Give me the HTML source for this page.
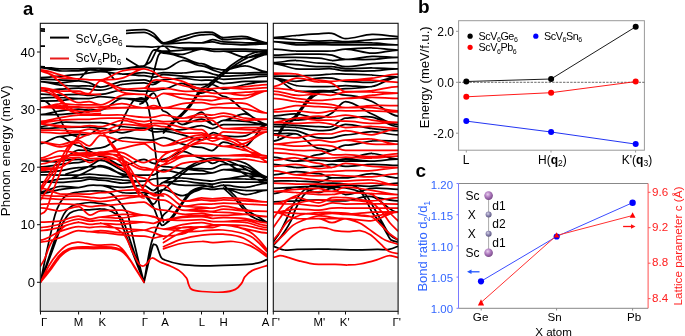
<!DOCTYPE html>
<html><head><meta charset="utf-8"><style>
html,body{margin:0;padding:0;background:#fff;width:685px;height:336px;overflow:hidden}
svg{display:block;will-change:transform}
text{font-family:"Liberation Sans",sans-serif}
</style></head><body>
<svg width="685" height="336" viewBox="0 0 685 336">
<defs>
<clipPath id="c1"><rect x="40.3" y="23.3" width="227.2" height="288"/></clipPath>
<clipPath id="c2"><rect x="273.3" y="23.3" width="124.8" height="288"/></clipPath>
<radialGradient id="sc" cx="0.4" cy="0.35" r="0.65"><stop offset="0" stop-color="#e8d0ee"/><stop offset="0.5" stop-color="#b07cc0"/><stop offset="1" stop-color="#7a4a8a"/></radialGradient>
<radialGradient id="xa" cx="0.4" cy="0.35" r="0.65"><stop offset="0" stop-color="#d6d4e8"/><stop offset="0.5" stop-color="#8c86b0"/><stop offset="1" stop-color="#5c5680"/></radialGradient>
</defs>

<!-- ===== Panel a ===== -->
<text x="23" y="15" font-size="18.5" font-weight="bold">a</text>
<rect x="40.3" y="282.3" width="227.2" height="29" fill="#e4e4e4"/>
<rect x="273.3" y="282.3" width="124.8" height="29" fill="#e4e4e4"/>

<g id="bands1" clip-path="url(#c1)" fill="none" stroke-width="1.75" stroke-linejoin="round" stroke-linecap="round">
<path stroke="#000" d="M40.5,28.8 C46.8,28.8 53.2,29.8 59.5,30.0 M40.5,30.8 C46.8,30.8 53.2,31.6 59.5,32.0 M40.5,46.0 C46.8,46.0 53.2,46.0 59.5,46.0 M40.5,66.7 C46.8,66.7 53.2,68.4 59.5,68.8 M40.5,67.7 C46.8,67.7 53.2,70.3 59.5,70.8 M40.5,77.6 C46.8,77.6 53.2,76.7 59.5,76.2 M40.5,79.0 C46.8,79.0 53.2,79.5 59.5,79.8 M40.5,81.6 C46.8,81.6 53.2,83.0 59.5,82.9 M40.5,81.6 C46.8,81.6 53.2,84.3 59.5,85.0 M40.5,90.5 C46.8,90.5 53.2,89.6 59.5,89.2 M40.5,94.2 C46.8,94.2 53.2,95.0 59.5,95.0 M40.5,98.0 C46.8,98.0 53.2,97.4 59.5,97.5 M40.5,101.0 C46.8,101.0 53.2,101.0 59.5,100.6 M40.5,114.6 C46.8,114.6 53.2,111.9 59.5,111.0 M40.5,114.6 C46.8,114.6 53.2,114.8 59.5,114.6 M40.5,126.6 C46.8,126.6 53.2,123.2 59.5,122.5 M40.5,128.4 C46.8,128.4 53.2,127.9 59.5,127.7 M40.5,143.6 C46.8,143.6 53.2,136.5 59.5,136.5 M40.5,160.5 C46.8,160.5 53.2,162.9 59.5,161.5 M40.5,166.8 C46.8,166.8 53.2,165.3 59.5,164.6 M40.5,172.0 C46.8,172.0 53.2,171.5 59.5,170.8 M40.5,174.8 C46.8,174.8 53.2,175.0 59.5,175.0 M40.5,182.0 C46.8,182.0 53.2,179.8 59.5,179.2 M40.5,182.0 C46.8,182.0 53.2,182.4 59.5,182.3 M40.5,191.8 C46.8,191.8 53.2,187.2 59.5,186.5 M40.5,193.6 C46.8,193.6 53.2,190.6 59.5,189.6 M59.5,30.0 C65.9,30.2 72.2,30.0 78.6,30.0 M59.5,32.0 C65.9,32.4 72.2,33.0 78.6,33.0 M59.5,46.0 C65.9,46.0 72.2,46.0 78.6,46.0 M59.5,68.8 C65.9,69.1 72.2,68.8 78.6,68.8 M59.5,70.8 C65.9,71.3 72.2,70.8 78.6,70.8 M59.5,76.2 C65.9,75.7 72.2,74.6 78.6,74.6 M59.5,79.8 C65.9,80.1 72.2,80.8 78.6,80.8 M59.5,82.9 C65.9,82.8 72.2,80.8 78.6,80.8 M59.5,85.0 C65.9,85.7 72.2,86.0 78.6,86.0 M59.5,89.2 C65.9,88.8 72.2,88.1 78.6,88.1 M59.5,95.0 C65.9,95.0 72.2,94.4 78.6,94.4 M59.5,97.5 C65.9,97.6 72.2,98.5 78.6,98.5 M59.5,100.6 C65.9,100.2 72.2,98.5 78.6,98.5 M59.5,111.0 C65.9,110.1 72.2,109.0 78.6,109.0 M59.5,114.6 C65.9,114.3 72.2,113.1 78.6,113.1 M59.5,122.5 C65.9,121.8 72.2,122.5 78.6,122.5 M59.5,127.7 C65.9,127.5 72.2,127.1 78.6,127.1 M59.5,136.5 C65.9,136.5 72.2,134.4 78.6,134.4 M59.5,136.5 C65.9,136.5 72.2,145.8 78.6,145.8 M59.5,161.5 C65.9,160.1 72.2,150.0 78.6,150.0 M59.5,161.5 C65.9,160.1 72.2,159.4 78.6,159.4 M59.5,164.6 C65.9,163.9 72.2,162.5 78.6,162.5 M59.5,170.8 C65.9,170.1 72.2,167.7 78.6,167.7 M59.5,175.0 C65.9,175.0 72.2,175.0 78.6,175.0 M59.5,179.2 C65.9,178.5 72.2,178.1 78.6,178.1 M59.5,182.3 C65.9,182.2 72.2,181.2 78.6,181.2 M59.5,186.5 C65.9,185.8 72.2,187.5 78.6,187.5 M59.5,189.6 C65.9,188.6 72.2,187.5 78.6,187.5 M78.6,30.0 C82.2,30.0 85.9,29.5 89.5,30.0 M78.6,33.0 C82.2,33.0 85.9,32.5 89.5,33.0 M78.6,46.0 C82.2,46.0 85.9,46.0 89.5,46.0 M78.6,68.8 C82.2,68.8 85.9,68.4 89.5,68.3 M78.6,70.8 C82.2,70.8 85.9,70.1 89.5,70.0 M78.6,74.6 C82.2,74.6 85.9,73.4 89.5,72.9 M78.6,80.8 C82.2,80.8 85.9,81.9 89.5,82.9 M78.6,86.0 C82.2,86.0 85.9,85.8 89.5,86.0 M78.6,88.1 C82.2,88.1 85.9,88.9 89.5,89.2 M78.6,94.4 C82.2,94.4 85.9,95.4 89.5,95.4 M78.6,98.5 C82.2,98.5 85.9,98.8 89.5,98.5 M78.6,109.0 C82.2,109.0 85.9,110.2 89.5,110.0 M78.6,113.1 C82.2,113.1 85.9,110.2 89.5,110.0 M78.6,122.5 C82.2,122.5 85.9,122.5 89.5,122.5 M78.6,127.1 C82.2,127.1 85.9,126.8 89.5,127.0 M78.6,134.4 C82.2,134.4 85.9,135.4 89.5,134.4 M78.6,145.8 C82.2,145.8 85.9,148.6 89.5,149.0 M78.6,150.0 C82.2,150.0 85.9,150.0 89.5,151.0 M78.6,159.4 C82.2,159.4 85.9,160.5 89.5,160.4 M78.6,162.5 C82.2,162.5 85.9,160.5 89.5,160.4 M78.6,167.7 C82.2,167.7 85.9,166.9 89.5,166.7 M78.6,175.0 C82.2,175.0 85.9,174.0 89.5,174.0 M78.6,178.1 C82.2,178.1 85.9,177.0 89.5,177.0 M78.6,181.2 C82.2,181.2 85.9,179.4 89.5,179.2 M78.6,187.5 C82.2,187.5 85.9,185.8 89.5,185.4 M89.5,30.0 C93.2,30.5 96.8,33.0 100.5,33.0 M89.5,33.0 C93.2,33.5 96.8,36.0 100.5,36.0 M89.5,46.0 C93.2,46.0 96.8,46.0 100.5,46.0 M89.5,68.3 C93.2,68.2 96.8,68.3 100.5,68.3 M89.5,70.0 C93.2,69.9 96.8,70.4 100.5,70.4 M89.5,72.9 C93.2,72.4 96.8,71.5 100.5,71.5 M89.5,82.9 C93.2,83.9 96.8,87.0 100.5,87.0 M89.5,86.0 C93.2,86.2 96.8,87.0 100.5,87.0 M89.5,89.2 C93.2,89.6 96.8,90.2 100.5,90.2 M89.5,95.4 C93.2,95.4 96.8,94.4 100.5,94.4 M89.5,98.5 C93.2,98.2 96.8,96.5 100.5,96.5 M89.5,110.0 C93.2,109.8 96.8,110.0 100.5,110.0 M89.5,122.5 C93.2,122.5 96.8,122.5 100.5,122.5 M89.5,127.0 C93.2,127.2 96.8,128.1 100.5,128.1 M89.5,134.4 C93.2,133.3 96.8,128.1 100.5,128.1 M89.5,149.0 C93.2,149.4 96.8,147.9 100.5,147.9 M89.5,151.0 C93.2,152.0 96.8,156.2 100.5,156.2 M89.5,160.4 C93.2,160.3 96.8,160.4 100.5,160.4 M89.5,166.7 C93.2,166.5 96.8,166.7 100.5,166.7 M89.5,174.0 C93.2,174.0 96.8,175.0 100.5,175.0 M89.5,177.0 C93.2,177.0 96.8,178.1 100.5,178.1 M89.5,179.2 C93.2,179.0 96.8,180.2 100.5,180.2 M89.5,185.4 C93.2,185.0 96.8,185.4 100.5,185.4 M100.5,33.0 C107.7,33.0 114.8,31.6 122.0,31.0 M100.5,36.0 C107.7,36.0 114.8,34.4 122.0,33.8 M100.5,46.0 C107.7,46.0 114.8,45.9 122.0,46.0 M100.5,68.3 C107.7,68.3 114.8,69.4 122.0,68.9 M100.5,70.4 C107.7,70.4 114.8,69.4 122.0,68.9 M100.5,71.5 C107.7,71.5 114.8,73.7 122.0,74.0 M100.5,87.0 C107.7,87.0 114.8,82.6 122.0,81.4 M100.5,90.2 C107.7,90.2 114.8,85.7 122.0,84.5 M100.5,94.4 C107.7,94.4 114.8,90.5 122.0,90.0 M100.5,96.5 C107.7,96.5 114.8,98.8 122.0,98.4 M100.5,110.0 C107.7,110.0 114.8,98.8 122.0,98.4 M100.5,122.5 C107.7,122.5 114.8,125.6 122.0,126.5 M100.5,128.1 C107.7,128.1 114.8,132.8 122.0,132.8 M100.5,147.9 C107.7,147.9 114.8,139.4 122.0,138.0 M100.5,156.2 C107.7,156.2 114.8,164.6 122.0,165.5 M100.5,160.4 C107.7,160.4 114.8,164.6 122.0,165.5 M100.5,166.7 C107.7,166.7 114.8,172.4 122.0,173.8 M100.5,175.0 C107.7,175.0 114.8,177.0 122.0,177.0 M100.5,178.1 C107.7,178.1 114.8,179.5 122.0,180.0 M100.5,180.2 C107.7,180.2 114.8,183.0 122.0,183.2 M100.5,185.4 C107.7,185.4 114.8,187.3 122.0,187.3 M100.5,185.4 C107.7,185.4 114.8,191.3 122.0,192.5 M122.0,31.0 C129.3,30.4 136.7,29.6 144.0,29.6 M122.0,33.8 C129.3,33.2 136.7,32.4 144.0,32.4 M122.0,46.0 C129.3,46.1 136.7,46.6 144.0,46.6 M122.0,68.9 C129.3,68.4 136.7,65.8 144.0,65.8 M122.0,68.9 C129.3,68.4 136.7,66.8 144.0,66.8 M122.0,74.0 C129.3,74.3 136.7,72.5 144.0,72.5 M122.0,74.0 C129.3,74.3 136.7,75.6 144.0,75.6 M122.0,81.4 C129.3,80.2 136.7,79.8 144.0,79.8 M122.0,84.5 C129.3,83.3 136.7,82.9 144.0,82.9 M122.0,90.0 C129.3,89.5 136.7,91.2 144.0,91.2 M122.0,98.4 C129.3,97.9 136.7,99.6 144.0,99.6 M122.0,98.4 C129.3,97.9 136.7,101.7 144.0,101.7 M122.0,126.5 C129.3,127.4 136.7,128.1 144.0,128.1 M122.0,132.8 C129.3,132.8 136.7,128.1 144.0,128.1 M122.0,138.0 C129.3,136.6 136.7,139.6 144.0,139.6 M122.0,165.5 C129.3,166.5 136.7,159.4 144.0,159.4 M122.0,173.8 C129.3,175.2 136.7,175.0 144.0,175.0 M122.0,177.0 C129.3,177.0 136.7,175.0 144.0,175.0 M122.0,180.0 C129.3,180.5 136.7,181.2 144.0,181.2 M122.0,183.2 C129.3,183.4 136.7,181.2 144.0,181.2 M122.0,187.3 C129.3,187.3 136.7,185.4 144.0,185.4 M122.0,192.5 C129.3,193.7 136.7,192.7 144.0,192.7 M144.0,29.6 C147.2,29.6 150.5,31.3 153.7,33.5 M144.0,32.4 C147.2,32.4 150.5,34.6 153.7,36.5 M144.0,46.6 C147.2,46.6 150.5,47.1 153.7,47.0 M144.0,65.8 C147.2,65.8 150.5,50.9 153.7,50.1 M144.0,66.8 C147.2,66.8 150.5,68.5 153.7,68.9 M144.0,72.5 C147.2,72.5 150.5,74.0 153.7,74.0 M144.0,75.6 C147.2,75.6 150.5,77.4 153.7,77.2 M144.0,79.8 C147.2,79.8 150.5,82.4 153.7,82.4 M144.0,82.9 C147.2,82.9 150.5,85.0 153.7,84.5 M144.0,91.2 C147.2,91.2 150.5,91.1 153.7,90.8 M144.0,99.6 C147.2,99.6 150.5,92.9 153.7,93.2 M144.0,101.7 C147.2,101.7 150.5,92.9 153.7,93.2 M144.0,128.1 C147.2,128.1 150.5,128.4 153.7,128.6 M144.0,128.1 C147.2,128.1 150.5,131.2 153.7,131.8 M144.0,139.6 C147.2,139.6 150.5,140.3 153.7,140.0 M144.0,159.4 C147.2,159.4 150.5,163.0 153.7,163.4 M144.0,175.0 C147.2,175.0 150.5,175.7 153.7,174.8 M144.0,181.2 C147.2,181.2 150.5,179.5 153.7,179.0 M144.0,185.4 C147.2,185.4 150.5,191.0 153.7,190.5 M144.0,192.7 C147.2,192.7 150.5,194.1 153.7,193.6 M144.0,192.7 C147.2,192.7 150.5,204.5 153.7,204.0 M153.7,33.5 C157.0,35.7 160.2,42.8 163.5,42.8 M153.7,36.5 C157.0,38.4 160.2,43.9 163.5,43.9 M153.7,47.0 C157.0,46.9 160.2,46.0 163.5,46.0 M153.7,50.1 C157.0,49.3 160.2,51.2 163.5,51.2 M153.7,50.1 C157.0,49.3 160.2,52.2 163.5,52.2 M153.7,50.1 C157.0,49.3 160.2,53.2 163.5,53.2 M153.7,68.9 C157.0,69.3 160.2,69.4 163.5,69.4 M153.7,74.0 C157.0,74.0 160.2,72.5 163.5,72.5 M153.7,77.2 C157.0,77.0 160.2,74.6 163.5,74.6 M153.7,82.4 C157.0,82.4 160.2,79.8 163.5,79.8 M153.7,84.5 C157.0,84.0 160.2,79.8 163.5,79.8 M153.7,90.8 C157.0,90.4 160.2,89.2 163.5,89.2 M153.7,93.2 C157.0,93.5 160.2,111.0 163.5,111.0 M153.7,128.6 C157.0,128.8 160.2,129.2 163.5,129.2 M153.7,131.8 C157.0,132.3 160.2,131.2 163.5,131.2 M153.7,140.0 C157.0,139.7 160.2,137.5 163.5,137.5 M153.7,163.4 C157.0,163.8 160.2,159.4 163.5,159.4 M153.7,163.4 C157.0,163.8 160.2,166.7 163.5,166.7 M153.7,174.8 C157.0,173.9 160.2,169.8 163.5,169.8 M153.7,179.0 C157.0,178.5 160.2,178.1 163.5,178.1 M153.7,190.5 C157.0,190.0 160.2,182.3 163.5,182.3 M153.7,193.6 C157.0,193.1 160.2,189.6 163.5,189.6 M153.7,204.0 C157.0,203.5 160.2,189.6 163.5,189.6 M163.5,42.8 C169.8,42.8 176.2,38.3 182.5,36.6 M163.5,42.8 C169.8,42.8 176.2,41.0 182.5,39.7 M163.5,43.9 C169.8,43.9 176.2,43.0 182.5,42.8 M163.5,46.0 C169.8,46.0 176.2,47.7 182.5,48.0 M163.5,51.2 C169.8,51.2 176.2,50.5 182.5,50.1 M163.5,52.2 C169.8,52.2 176.2,54.8 182.5,54.3 M163.5,53.2 C169.8,53.2 176.2,55.7 182.5,57.4 M163.5,69.4 C169.8,69.4 176.2,61.1 182.5,60.5 M163.5,72.5 C169.8,72.5 176.2,73.2 182.5,73.0 M163.5,74.6 C169.8,74.6 176.2,75.8 182.5,76.2 M163.5,79.8 C169.8,79.8 176.2,78.2 182.5,78.2 M163.5,89.2 C169.8,89.2 176.2,82.6 182.5,83.5 M163.5,111.0 C169.8,111.0 176.2,125.0 182.5,124.5 M163.5,129.2 C169.8,129.2 176.2,130.3 182.5,129.7 M163.5,131.2 C169.8,131.2 176.2,133.4 182.5,134.9 M163.5,137.5 C169.8,137.5 176.2,142.6 182.5,144.2 M163.5,159.4 C169.8,159.4 176.2,151.7 182.5,151.5 M163.5,166.7 C169.8,166.7 176.2,168.2 182.5,168.6 M163.5,169.8 C169.8,169.8 176.2,173.1 182.5,173.8 M163.5,178.1 C169.8,178.1 176.2,177.7 182.5,178.0 M163.5,182.3 C169.8,182.3 176.2,180.8 182.5,181.0 M163.5,182.3 C169.8,182.3 176.2,184.8 182.5,185.2 M163.5,189.6 C169.8,189.6 176.2,195.9 182.5,195.7 M182.5,36.6 C188.8,34.9 195.2,32.4 201.5,32.4 M182.5,39.7 C188.8,38.4 195.2,34.9 201.5,34.9 M182.5,42.8 C188.8,42.6 195.2,42.8 201.5,42.8 M182.5,48.0 C188.8,48.3 195.2,48.0 201.5,48.0 M182.5,50.1 C188.8,49.8 195.2,49.1 201.5,49.1 M182.5,54.3 C188.8,53.8 195.2,49.1 201.5,49.1 M182.5,57.4 C188.8,59.1 195.2,63.7 201.5,63.7 M182.5,60.5 C188.8,59.9 195.2,65.8 201.5,65.8 M182.5,73.0 C188.8,72.8 195.2,71.0 201.5,71.0 M182.5,76.2 C188.8,76.6 195.2,77.2 201.5,77.2 M182.5,78.2 C188.8,78.3 195.2,80.3 201.5,80.3 M182.5,83.5 C188.8,84.4 195.2,84.5 201.5,84.5 M182.5,83.5 C188.8,84.4 195.2,89.0 201.5,89.0 M182.5,83.5 C188.8,84.4 195.2,93.2 201.5,93.2 M182.5,124.5 C188.8,124.0 195.2,112.0 201.5,112.0 M182.5,124.5 C188.8,124.0 195.2,119.2 201.5,119.2 M182.5,129.7 C188.8,129.1 195.2,125.5 201.5,125.5 M182.5,134.9 C188.8,136.4 195.2,140.0 201.5,140.0 M182.5,144.2 C188.8,145.9 195.2,147.4 201.5,147.4 M182.5,151.5 C188.8,151.3 195.2,158.2 201.5,158.2 M182.5,168.6 C188.8,169.0 195.2,168.6 201.5,168.6 M182.5,168.6 C188.8,169.0 195.2,170.7 201.5,170.7 M182.5,173.8 C188.8,174.5 195.2,173.8 201.5,173.8 M182.5,178.0 C188.8,178.3 195.2,180.0 201.5,180.0 M182.5,181.0 C188.8,181.2 195.2,183.2 201.5,183.2 M182.5,185.2 C188.8,185.7 195.2,185.2 201.5,185.2 M182.5,195.7 C188.8,195.5 195.2,188.4 201.5,188.4 M201.5,32.4 C205.2,32.4 208.8,31.5 212.5,32.4 M201.5,34.9 C205.2,34.9 208.8,33.7 212.5,34.5 M201.5,42.8 C205.2,42.8 208.8,39.9 212.5,39.7 M201.5,42.8 C205.2,42.8 208.8,41.6 212.5,41.8 M201.5,48.0 C205.2,48.0 208.8,48.9 212.5,49.1 M201.5,49.1 C205.2,49.1 208.8,50.9 212.5,51.2 M201.5,63.7 C205.2,63.7 208.8,66.8 212.5,67.8 M201.5,65.8 C205.2,65.8 208.8,68.7 212.5,69.9 M201.5,71.0 C205.2,71.0 208.8,73.1 212.5,74.0 M201.5,77.2 C205.2,77.2 208.8,76.9 212.5,77.2 M201.5,80.3 C205.2,80.3 208.8,79.8 212.5,80.3 M201.5,84.5 C205.2,84.5 208.8,83.8 212.5,84.5 M201.5,89.0 C205.2,89.0 208.8,89.5 212.5,90.0 M201.5,93.2 C205.2,93.2 208.8,89.5 212.5,90.0 M201.5,112.0 C205.2,112.0 208.8,123.0 212.5,124.5 M201.5,119.2 C205.2,119.2 208.8,123.0 212.5,124.5 M201.5,125.5 C205.2,125.5 208.8,128.8 212.5,128.6 M201.5,140.0 C205.2,140.0 208.8,133.5 212.5,132.8 M201.5,147.4 C205.2,147.4 208.8,151.4 212.5,150.5 M201.5,158.2 C205.2,158.2 208.8,163.2 212.5,163.4 M201.5,168.6 C205.2,168.6 208.8,169.3 212.5,168.6 M201.5,170.7 C205.2,170.7 208.8,173.0 212.5,172.8 M201.5,173.8 C205.2,173.8 208.8,173.0 212.5,172.8 M201.5,180.0 C205.2,180.0 208.8,181.2 212.5,181.0 M201.5,183.2 C205.2,183.2 208.8,184.4 212.5,184.2 M201.5,185.2 C205.2,185.2 208.8,187.3 212.5,187.3 M201.5,188.4 C205.2,188.4 208.8,189.4 212.5,189.4 M212.5,32.4 C216.2,33.3 219.8,37.6 223.5,37.6 M212.5,34.5 C216.2,35.3 219.8,39.7 223.5,39.7 M212.5,39.7 C216.2,39.5 219.8,41.8 223.5,41.8 M212.5,41.8 C216.2,42.0 219.8,43.9 223.5,43.9 M212.5,49.1 C216.2,49.3 219.8,49.1 223.5,49.1 M212.5,51.2 C216.2,51.6 219.8,51.2 223.5,51.2 M212.5,67.8 C216.2,68.8 219.8,69.9 223.5,69.9 M212.5,69.9 C216.2,71.1 219.8,73.0 223.5,73.0 M212.5,74.0 C216.2,74.9 219.8,76.2 223.5,76.2 M212.5,77.2 C216.2,77.5 219.8,79.3 223.5,79.3 M212.5,80.3 C216.2,80.8 219.8,83.5 223.5,83.5 M212.5,84.5 C216.2,85.2 219.8,89.0 223.5,89.0 M212.5,90.0 C216.2,90.5 219.8,96.3 223.5,96.3 M212.5,124.5 C216.2,126.0 219.8,120.3 223.5,120.3 M212.5,128.6 C216.2,128.4 219.8,124.5 223.5,124.5 M212.5,132.8 C216.2,132.1 219.8,135.9 223.5,135.9 M212.5,150.5 C216.2,149.6 219.8,142.2 223.5,142.2 M212.5,163.4 C216.2,163.6 219.8,159.2 223.5,159.2 M212.5,168.6 C216.2,167.9 219.8,164.4 223.5,164.4 M212.5,172.8 C216.2,172.5 219.8,169.6 223.5,169.6 M212.5,181.0 C216.2,180.8 219.8,179.0 223.5,179.0 M212.5,184.2 C216.2,184.0 219.8,182.1 223.5,182.1 M212.5,187.3 C216.2,187.3 219.8,185.2 223.5,185.2 M212.5,189.4 C216.2,189.4 219.8,188.4 223.5,188.4 M223.5,37.6 C230.8,37.6 238.2,35.7 245.5,36.6 M223.5,39.7 C230.8,39.7 238.2,38.2 245.5,38.7 M223.5,41.8 C230.8,41.8 238.2,42.6 245.5,42.8 M223.5,43.9 C230.8,43.9 238.2,44.9 245.5,44.9 M223.5,49.1 C230.8,49.1 238.2,48.9 245.5,49.1 M223.5,51.2 C230.8,51.2 238.2,51.0 245.5,51.2 M223.5,51.2 C230.8,51.2 238.2,56.9 245.5,57.4 M223.5,69.9 C230.8,69.9 238.2,65.2 245.5,62.6 M223.5,69.9 C230.8,69.9 238.2,65.4 245.5,65.8 M223.5,73.0 C230.8,73.0 238.2,73.2 245.5,73.0 M223.5,76.2 C230.8,76.2 238.2,75.4 245.5,75.1 M223.5,79.3 C230.8,79.3 238.2,78.8 245.5,78.2 M223.5,83.5 C230.8,83.5 238.2,81.8 245.5,81.4 M223.5,89.0 C230.8,89.0 238.2,85.8 245.5,84.5 M223.5,96.3 C230.8,96.3 238.2,107.3 245.5,112.0 M223.5,120.3 C230.8,120.3 238.2,113.3 245.5,114.0 M223.5,120.3 C230.8,120.3 238.2,120.6 245.5,121.3 M223.5,124.5 C230.8,124.5 238.2,124.5 245.5,124.5 M223.5,135.9 C230.8,135.9 238.2,137.8 245.5,135.9 M223.5,142.2 C230.8,142.2 238.2,149.2 245.5,146.3 M223.5,159.2 C230.8,159.2 238.2,160.4 245.5,163.4 M223.5,164.4 C230.8,164.4 238.2,164.4 245.5,166.5 M223.5,169.6 C230.8,169.6 238.2,168.4 245.5,169.6 M223.5,169.6 C230.8,169.6 238.2,171.5 245.5,172.8 M223.5,179.0 C230.8,179.0 238.2,176.2 245.5,175.9 M223.5,179.0 C230.8,179.0 238.2,178.8 245.5,179.0 M223.5,182.1 C230.8,182.1 238.2,182.1 245.5,182.1 M223.5,185.2 C230.8,185.2 238.2,187.6 245.5,187.3 M223.5,188.4 C230.8,188.4 238.2,190.2 245.5,190.5 M223.5,188.4 C230.8,188.4 238.2,194.3 245.5,194.6 M245.5,36.6 C252.8,37.5 260.2,42.8 267.5,42.8 M245.5,38.7 C252.8,39.2 260.2,42.8 267.5,42.8 M245.5,42.8 C252.8,43.0 260.2,42.8 267.5,42.8 M245.5,44.9 C252.8,44.9 260.2,43.9 267.5,43.9 M245.5,49.1 C252.8,49.3 260.2,50.1 267.5,50.1 M245.5,51.2 C252.8,51.4 260.2,52.2 267.5,52.2 M245.5,57.4 C252.8,57.9 260.2,54.3 267.5,54.3 M245.5,62.6 C252.8,60.0 260.2,54.3 267.5,54.3 M245.5,65.8 C252.8,66.1 260.2,72.0 267.5,72.0 M245.5,73.0 C252.8,72.8 260.2,72.0 267.5,72.0 M245.5,75.1 C252.8,74.8 260.2,74.1 267.5,74.1 M245.5,78.2 C252.8,77.7 260.2,76.2 267.5,76.2 M245.5,81.4 C252.8,81.1 260.2,81.4 267.5,81.4 M245.5,84.5 C252.8,83.2 260.2,81.4 267.5,81.4 M245.5,112.0 C252.8,116.7 260.2,124.5 267.5,124.5 M245.5,114.0 C252.8,114.7 260.2,124.5 267.5,124.5 M245.5,121.3 C252.8,122.0 260.2,124.5 267.5,124.5 M245.5,124.5 C252.8,124.5 260.2,124.5 267.5,124.5 M245.5,135.9 C252.8,134.0 260.2,124.5 267.5,124.5 M245.5,146.3 C252.8,143.4 260.2,124.5 267.5,124.5 M245.5,163.4 C252.8,166.4 260.2,177.0 267.5,177.0 M245.5,166.5 C252.8,168.6 260.2,177.0 267.5,177.0 M245.5,169.6 C252.8,170.8 260.2,177.0 267.5,177.0 M245.5,172.8 C252.8,174.0 260.2,177.0 267.5,177.0 M245.5,175.9 C252.8,175.6 260.2,177.0 267.5,177.0 M245.5,179.0 C252.8,179.2 260.2,180.0 267.5,180.0 M245.5,182.1 C252.8,182.1 260.2,182.1 267.5,182.1 M245.5,187.3 C252.8,187.0 260.2,183.2 267.5,183.2 M245.5,190.5 C252.8,190.8 260.2,190.0 267.5,190.0 M245.5,194.6 C252.8,194.9 260.2,190.0 267.5,190.0 M163.5,189.6 C165.4,188.0 170.6,183.6 175.0,180.0 C179.4,176.4 185.6,170.8 190.0,168.0 C194.4,165.2 197.8,164.3 201.5,163.0 C205.2,161.7 208.8,160.2 212.5,160.0 C216.2,159.8 219.8,160.7 223.5,162.0 C227.2,163.3 230.6,165.5 235.0,168.0 C239.4,170.5 244.6,174.5 250.0,177.0 C255.4,179.5 264.6,182.2 267.5,183.2 M163.5,182.3 C165.4,181.2 170.6,178.7 175.0,176.0 C179.4,173.3 185.6,168.6 190.0,166.0 C194.4,163.4 197.8,161.8 201.5,160.5 C205.2,159.2 208.8,158.2 212.5,158.0 C216.2,157.8 218.9,158.2 223.5,159.5 C228.1,160.8 234.8,163.6 240.0,166.0 C245.2,168.4 250.4,171.7 255.0,174.0 C259.6,176.3 265.4,179.0 267.5,180.0 M66.0,174.0 C67.6,173.5 71.7,172.4 75.4,171.2 C79.1,170.1 84.2,168.7 88.0,167.0 C91.8,165.3 95.9,162.0 98.3,160.8 C100.7,159.6 100.8,159.6 102.5,160.0 C104.2,160.4 105.3,161.1 108.8,163.0 C112.2,164.9 119.4,169.2 123.3,171.2 C127.2,173.2 130.6,174.4 132.0,175.0 M72.0,178.0 C73.7,177.3 78.3,175.7 82.0,174.0 C85.7,172.3 90.9,169.4 94.0,168.0 C97.1,166.6 97.8,165.5 100.5,165.5 C103.2,165.5 106.8,166.6 110.0,168.0 C113.2,169.4 116.7,172.3 120.0,174.0 C123.3,175.7 128.3,177.3 130.0,178.0 M201.5,88.0 C202.6,87.5 204.8,87.2 207.8,85.0 C210.8,82.8 215.7,78.4 219.6,75.1 C223.5,71.8 227.5,68.2 231.4,65.3 C235.3,62.3 239.3,59.5 243.2,57.4 C247.1,55.3 250.9,53.6 255.0,52.5 C259.1,51.4 265.4,50.9 267.5,50.6 M201.5,90.5 C202.6,90.0 204.8,89.7 207.8,87.5 C210.8,85.3 215.7,80.9 219.6,77.6 C223.5,74.3 227.5,70.8 231.4,67.8 C235.3,64.8 239.3,62.0 243.2,59.9 C247.1,57.8 250.9,56.1 255.0,55.0 C259.1,53.9 265.4,53.3 267.5,53.0 M78.6,80.0 C79.2,79.4 80.5,78.1 82.0,76.5 C83.5,74.9 85.7,71.6 87.9,70.3 C90.1,69.0 92.4,68.7 95.0,68.5 C97.6,68.3 101.0,68.2 103.4,69.1 C105.8,70.0 107.5,72.2 109.3,73.9 C111.1,75.6 113.2,78.2 114.0,79.0 M40.5,282.3 C41.4,277.8 44.2,263.7 46.0,255.0 C47.8,246.3 50.0,236.7 51.5,230.0 C53.0,223.3 53.6,219.5 55.0,215.0 C56.4,210.5 58.0,206.3 60.0,203.0 C62.0,199.7 63.9,196.8 67.0,195.0 C70.1,193.2 74.8,192.7 78.6,192.0 C82.3,191.3 85.8,191.2 89.5,191.0 C93.2,190.8 97.1,190.7 100.5,191.0 C103.9,191.3 107.1,191.5 110.0,193.0 C112.9,194.5 115.7,197.5 118.0,200.0 C120.3,202.5 122.3,205.5 124.0,208.0 C125.7,210.5 126.8,211.3 128.0,215.0 C129.2,218.7 129.5,222.7 131.2,230.0 C132.9,237.3 135.9,250.3 138.0,259.0 C140.1,267.7 143.0,278.4 144.0,282.3 M40.5,282.3 C41.9,278.1 46.1,265.7 49.0,257.0 C51.9,248.3 55.8,236.3 57.9,230.0 C60.0,223.7 60.1,222.2 61.5,219.0 C62.9,215.8 64.2,213.2 66.0,211.0 C67.8,208.8 69.9,207.2 72.0,206.0 C74.1,204.8 75.7,204.6 78.6,204.0 C81.5,203.4 85.8,202.6 89.5,202.5 C93.2,202.4 97.4,203.1 100.5,203.5 C103.6,203.9 105.8,204.2 108.0,205.0 C110.2,205.8 112.3,206.3 114.0,208.0 C115.7,209.7 116.6,211.3 118.2,215.0 C119.9,218.7 121.2,222.7 124.0,230.0 C126.8,237.3 131.7,250.3 135.0,259.0 C138.3,267.7 142.5,278.4 144.0,282.3 M40.5,282.3 C42.1,278.1 46.8,265.6 50.0,257.0 C53.2,248.4 57.2,237.0 59.5,231.0 C61.8,225.0 62.2,224.0 64.0,221.0 C65.8,218.0 67.6,214.8 70.0,213.0 C72.4,211.2 75.3,210.5 78.6,210.0 C81.8,209.5 85.8,210.0 89.5,209.8 C93.2,209.6 97.4,208.7 100.5,208.8 C103.6,208.8 105.4,209.1 108.0,210.0 C110.6,210.9 113.7,212.5 116.0,214.0 C118.3,215.5 120.2,216.2 122.0,219.0 C123.8,221.8 123.3,220.4 127.0,231.0 C130.7,241.6 141.2,273.8 144.0,282.3 M144.0,282.3 C144.8,278.9 147.2,268.1 148.7,262.0 C150.1,255.9 151.7,248.9 152.7,246.0 C153.7,243.1 153.9,244.6 154.6,244.6 C155.3,244.6 155.8,244.0 156.8,246.0 C157.8,248.0 159.5,254.4 160.8,256.7 C162.1,259.0 161.4,258.7 164.8,260.0 C168.2,261.3 175.1,263.4 181.2,264.4 C187.4,265.4 195.0,265.6 202.0,265.8 C209.0,266.0 215.3,265.6 223.0,265.4 C230.7,265.2 241.8,264.9 248.0,264.4 C254.2,263.9 257.1,263.2 260.4,262.3 C263.6,261.4 266.3,259.7 267.5,259.2 M144.0,282.3 C145.0,276.7 148.3,256.5 150.0,248.6 C151.7,240.7 152.4,239.5 154.0,235.0 C155.6,230.5 157.8,225.1 159.4,221.8 C161.0,218.5 162.1,216.8 163.5,215.0 C164.9,213.2 166.6,212.5 168.0,211.0 C169.4,209.5 171.3,206.8 172.0,206.0 M144.7,195.0 C145.6,196.2 148.4,199.8 150.0,202.0 C151.6,204.2 152.4,205.1 154.0,208.4 C155.6,211.7 157.8,219.0 159.4,221.8 C161.0,224.6 161.4,225.9 163.5,225.0 C165.6,224.1 168.8,220.3 172.0,216.5 C175.2,212.7 179.3,206.1 182.4,201.9 C185.5,197.7 187.6,194.0 190.8,191.5 C193.9,189.0 197.9,187.9 201.5,187.0 C205.1,186.1 210.7,186.2 212.5,186.0 M163.5,225.0 C164.9,223.9 168.8,222.0 172.0,218.5 C175.2,215.0 179.3,208.1 182.4,203.9 C185.5,199.7 187.6,196.0 190.8,193.5 C193.9,191.0 199.7,189.8 201.5,189.0 M40.5,100.6 C41.5,100.8 44.2,100.5 46.2,101.7 C48.2,102.9 50.8,105.9 52.5,108.0 C54.2,110.1 55.3,112.1 56.7,114.2 C58.1,116.3 59.6,118.3 60.8,120.4 C62.0,122.5 62.5,124.4 64.0,126.7 C65.5,129.0 67.6,132.3 70.0,134.0 C72.4,135.7 77.2,136.5 78.6,137.0 M110.0,133.0 C111.4,132.4 115.8,132.7 118.2,129.7 C120.8,126.7 122.6,119.7 125.0,115.0 C127.4,110.3 130.6,104.2 132.8,101.5 C135.0,98.8 136.3,99.0 138.0,98.5 C139.7,98.0 141.8,97.7 143.2,98.4 C144.8,99.2 146.0,100.6 147.0,103.0 C148.0,105.4 148.4,106.8 149.5,113.0 C150.6,119.2 152.6,132.2 153.7,140.0 C154.8,147.8 155.7,153.3 156.3,160.0 C156.9,166.7 157.1,173.0 157.5,180.0 C157.9,187.0 158.2,196.6 158.8,202.0 C159.3,207.4 160.0,209.2 160.8,212.5 C161.6,215.8 163.1,220.4 163.5,222.0 M140.0,104.0 C140.7,103.6 142.8,103.7 144.0,101.7 C145.2,99.7 145.5,96.6 147.0,92.0 C148.5,87.4 151.3,80.1 153.2,74.0 C155.1,67.9 156.7,59.1 158.4,55.3 C160.1,51.5 162.7,51.9 163.5,51.2 M163.5,131.0 C164.9,129.6 168.8,125.4 172.0,122.4 C175.2,119.4 179.3,116.1 182.4,113.0 C185.5,109.9 188.3,106.7 190.8,103.6 C193.2,100.5 195.2,96.7 197.0,94.2 C198.8,91.8 200.8,89.9 201.5,89.0 M163.5,133.0 C164.9,131.6 168.8,127.4 172.0,124.4 C175.2,121.4 179.3,118.1 182.4,115.0 C185.5,111.9 188.3,108.7 190.8,105.6 C193.2,102.5 195.2,98.7 197.0,96.2 C198.8,93.8 200.8,91.9 201.5,91.0 M223.5,185.0 C225.4,186.8 231.1,191.8 235.0,196.0 C238.9,200.2 243.1,206.6 246.8,210.0 C250.5,213.4 253.8,214.2 257.2,216.2 C260.7,218.3 265.8,221.5 267.5,222.5 M223.5,188.0 C225.4,189.8 231.1,194.8 235.0,199.0 C238.9,203.2 243.1,209.6 246.8,213.0 C250.5,216.4 253.8,217.7 257.2,219.2 C260.7,220.8 265.8,222.0 267.5,222.5 M126.0,58.5 C127.4,59.4 132.0,62.3 134.4,63.7 C136.8,65.1 138.5,66.9 140.6,66.9 C142.7,67.0 145.3,65.0 147.0,64.0 C148.7,63.0 149.3,63.5 151.0,61.0 C152.7,58.5 155.2,51.7 157.3,49.2 C159.4,46.7 161.4,45.7 163.5,46.0 C165.6,46.3 168.9,50.2 170.0,51.0"/>
<path stroke="#f00" d="M40.5,69.8 C46.8,69.8 53.2,73.1 59.5,74.6 M40.5,71.0 C46.8,71.0 53.2,76.4 59.5,77.7 M40.5,87.7 C46.8,87.7 53.2,90.2 59.5,90.8 M40.5,88.6 C46.8,88.6 53.2,90.6 59.5,92.9 M40.5,107.3 C46.8,107.3 53.2,104.2 59.5,103.8 M40.5,107.3 C46.8,107.3 53.2,105.9 59.5,105.8 M40.5,107.3 C46.8,107.3 53.2,107.7 59.5,108.3 M40.5,121.3 C46.8,121.3 53.2,118.9 59.5,117.9 M40.5,122.6 C46.8,122.6 53.2,120.9 59.5,120.4 M40.5,123.9 C46.8,123.9 53.2,125.1 59.5,125.6 M40.5,123.9 C46.8,123.9 53.2,126.5 59.5,127.0 M40.5,130.2 C46.8,130.2 53.2,130.0 59.5,130.2 M40.5,132.0 C46.8,132.0 53.2,133.2 59.5,133.3 M40.5,142.0 C46.8,142.0 53.2,145.0 59.5,144.8 M40.5,142.0 C46.8,142.0 53.2,146.8 59.5,146.9 M40.5,157.9 C46.8,157.9 53.2,151.8 59.5,151.0 M40.5,159.6 C46.8,159.6 53.2,157.0 59.5,156.2 M40.5,164.0 C46.8,164.0 53.2,160.5 59.5,159.4 M40.5,167.7 C46.8,167.7 53.2,168.9 59.5,167.7 M40.5,168.6 C46.8,168.6 53.2,168.9 59.5,167.7 M40.5,170.4 C46.8,170.4 53.2,168.9 59.5,167.7 M40.5,188.2 C46.8,188.2 53.2,192.8 59.5,193.8 M40.5,195.4 C46.8,195.4 53.2,196.1 59.5,196.2 M40.5,198.0 C46.8,198.0 53.2,199.2 59.5,199.4 M40.5,204.3 C46.8,204.3 53.2,203.5 59.5,203.5 M40.5,207.9 C46.8,207.9 53.2,211.0 59.5,210.8 M40.5,222.0 C46.8,222.0 53.2,222.2 59.5,221.2 M40.5,227.5 C46.8,227.5 53.2,225.8 59.5,224.4 M40.5,230.6 C46.8,230.6 53.2,228.9 59.5,227.5 M40.5,240.0 C46.8,240.0 53.2,233.9 59.5,231.7 M40.5,242.0 C46.8,242.0 53.2,239.8 59.5,237.9 M59.5,74.6 C65.9,76.1 72.2,78.8 78.6,78.8 M59.5,77.7 C65.9,79.0 72.2,78.8 78.6,78.8 M59.5,90.8 C65.9,91.4 72.2,91.2 78.6,91.2 M59.5,92.9 C65.9,95.3 72.2,102.7 78.6,102.7 M59.5,103.8 C65.9,103.3 72.2,104.8 78.6,104.8 M59.5,105.8 C65.9,105.7 72.2,106.9 78.6,106.9 M59.5,108.3 C65.9,108.9 72.2,111.0 78.6,111.0 M59.5,117.9 C65.9,116.9 72.2,115.2 78.6,115.2 M59.5,120.4 C65.9,119.9 72.2,119.4 78.6,119.4 M59.5,125.6 C65.9,126.1 72.2,126.7 78.6,126.7 M59.5,127.0 C65.9,127.5 72.2,126.7 78.6,126.7 M59.5,130.2 C65.9,130.4 72.2,131.2 78.6,131.2 M59.5,133.3 C65.9,133.4 72.2,132.3 78.6,132.3 M59.5,144.8 C65.9,144.6 72.2,140.6 78.6,140.6 M59.5,146.9 C65.9,147.0 72.2,142.7 78.6,142.7 M59.5,151.0 C65.9,150.2 72.2,153.1 78.6,153.1 M59.5,156.2 C65.9,155.5 72.2,155.2 78.6,155.2 M59.5,159.4 C65.9,158.3 72.2,157.3 78.6,157.3 M59.5,167.7 C65.9,166.5 72.2,157.3 78.6,157.3 M59.5,193.8 C65.9,194.7 72.2,193.8 78.6,193.8 M59.5,196.2 C65.9,196.4 72.2,196.2 78.6,196.2 M59.5,199.4 C65.9,199.6 72.2,199.4 78.6,199.4 M59.5,203.5 C65.9,203.5 72.2,204.6 78.6,204.6 M59.5,210.8 C65.9,210.6 72.2,206.7 78.6,206.7 M59.5,221.2 C65.9,220.2 72.2,216.0 78.6,216.0 M59.5,224.4 C65.9,223.0 72.2,219.2 78.6,219.2 M59.5,227.5 C65.9,226.1 72.2,222.3 78.6,222.3 M59.5,231.7 C65.9,229.4 72.2,226.5 78.6,226.5 M59.5,237.9 C65.9,236.0 72.2,230.6 78.6,230.6 M78.6,78.8 C82.2,78.8 85.9,79.6 89.5,79.8 M78.6,91.2 C82.2,91.2 85.9,95.0 89.5,93.3 M78.6,102.7 C82.2,102.7 85.9,101.4 89.5,101.7 M78.6,104.8 C82.2,104.8 85.9,104.8 89.5,104.8 M78.6,106.9 C82.2,106.9 85.9,107.9 89.5,107.9 M78.6,111.0 C82.2,111.0 85.9,112.3 89.5,112.0 M78.6,115.2 C82.2,115.2 85.9,115.2 89.5,115.2 M78.6,119.4 C82.2,119.4 85.9,119.6 89.5,119.4 M78.6,126.7 C82.2,126.7 85.9,125.6 89.5,125.6 M78.6,131.2 C82.2,131.2 85.9,129.2 89.5,129.2 M78.6,132.3 C82.2,132.3 85.9,133.1 89.5,133.3 M78.6,140.6 C82.2,140.6 85.9,146.7 89.5,145.8 M78.6,142.7 C82.2,142.7 85.9,152.6 89.5,154.2 M78.6,153.1 C82.2,153.1 85.9,156.1 89.5,156.2 M78.6,155.2 C82.2,155.2 85.9,157.8 89.5,158.3 M78.6,157.3 C82.2,157.3 85.9,162.3 89.5,162.5 M78.6,193.8 C82.2,193.8 85.9,194.4 89.5,194.2 M78.6,196.2 C82.2,196.2 85.9,197.0 89.5,197.3 M78.6,199.4 C82.2,199.4 85.9,200.1 89.5,200.4 M78.6,204.6 C82.2,204.6 85.9,206.5 89.5,206.7 M78.6,206.7 C82.2,206.7 85.9,214.3 89.5,215.0 M78.6,216.0 C82.2,216.0 85.9,219.0 89.5,219.2 M78.6,219.2 C82.2,219.2 85.9,221.1 89.5,221.2 M78.6,222.3 C82.2,222.3 85.9,224.2 89.5,224.4 M78.6,226.5 C82.2,226.5 85.9,227.5 89.5,227.5 M78.6,230.6 C82.2,230.6 85.9,231.6 89.5,231.7 M89.5,79.8 C93.2,80.0 96.8,79.8 100.5,79.8 M89.5,93.3 C93.2,91.6 96.8,80.8 100.5,80.8 M89.5,101.7 C93.2,102.0 96.8,104.8 100.5,104.8 M89.5,104.8 C93.2,104.8 96.8,104.8 100.5,104.8 M89.5,107.9 C93.2,107.9 96.8,106.9 100.5,106.9 M89.5,112.0 C93.2,111.7 96.8,109.0 100.5,109.0 M89.5,115.2 C93.2,115.2 96.8,115.2 100.5,115.2 M89.5,119.4 C93.2,119.2 96.8,118.3 100.5,118.3 M89.5,125.6 C93.2,125.6 96.8,126.7 100.5,126.7 M89.5,129.2 C93.2,129.2 96.8,131.2 100.5,131.2 M89.5,133.3 C93.2,133.5 96.8,133.3 100.5,133.3 M89.5,145.8 C93.2,144.9 96.8,135.4 100.5,135.4 M89.5,154.2 C93.2,155.8 96.8,152.1 100.5,152.1 M89.5,156.2 C93.2,156.4 96.8,154.2 100.5,154.2 M89.5,158.3 C93.2,158.8 96.8,158.3 100.5,158.3 M89.5,162.5 C93.2,162.7 96.8,158.3 100.5,158.3 M89.5,194.2 C93.2,194.0 96.8,192.7 100.5,192.7 M89.5,197.3 C93.2,197.6 96.8,198.3 100.5,198.3 M89.5,200.4 C93.2,200.8 96.8,201.5 100.5,201.5 M89.5,206.7 C93.2,206.9 96.8,205.6 100.5,205.6 M89.5,215.0 C93.2,215.7 96.8,210.8 100.5,210.8 M89.5,219.2 C93.2,219.4 96.8,217.0 100.5,217.0 M89.5,221.2 C93.2,221.4 96.8,220.2 100.5,220.2 M89.5,224.4 C93.2,224.6 96.8,223.3 100.5,223.3 M89.5,227.5 C93.2,227.5 96.8,226.5 100.5,226.5 M89.5,231.7 C93.2,231.8 96.8,230.6 100.5,230.6 M89.5,231.7 C93.2,231.8 96.8,232.7 100.5,232.7 M100.5,79.8 C107.7,79.8 114.8,72.8 122.0,71.0 M100.5,79.8 C107.7,79.8 114.8,80.1 122.0,78.2 M100.5,80.8 C107.7,80.8 114.8,87.5 122.0,88.7 M100.5,80.8 C107.7,80.8 114.8,89.9 122.0,92.2 M100.5,104.8 C107.7,104.8 114.8,97.0 122.0,95.3 M100.5,106.9 C107.7,106.9 114.8,103.4 122.0,103.6 M100.5,109.0 C107.7,109.0 114.8,108.0 122.0,107.8 M100.5,115.2 C107.7,115.2 114.8,114.7 122.0,115.0 M100.5,118.3 C107.7,118.3 114.8,117.7 122.0,118.2 M100.5,126.7 C107.7,126.7 114.8,120.7 122.0,120.3 M100.5,131.2 C107.7,131.2 114.8,125.4 122.0,124.5 M100.5,133.3 C107.7,133.3 114.8,130.2 122.0,129.7 M100.5,135.4 C107.7,135.4 114.8,139.8 122.0,141.0 M100.5,152.1 C107.7,152.1 114.8,149.8 122.0,148.4 M100.5,152.1 C107.7,152.1 114.8,150.9 122.0,152.6 M100.5,154.2 C107.7,154.2 114.8,153.8 122.0,156.0 M100.5,158.3 C107.7,158.3 114.8,158.4 122.0,160.2 M100.5,158.3 C107.7,158.3 114.8,165.3 122.0,168.6 M100.5,192.7 C107.7,192.7 114.8,191.0 122.0,190.5 M100.5,198.3 C107.7,198.3 114.8,196.1 122.0,195.7 M100.5,201.5 C107.7,201.5 114.8,199.7 122.0,198.8 M100.5,205.6 C107.7,205.6 114.8,204.6 122.0,204.0 M100.5,210.8 C107.7,210.8 114.8,209.6 122.0,210.2 M100.5,217.0 C107.7,217.0 114.8,214.7 122.0,214.4 M100.5,217.0 C107.7,217.0 114.8,218.3 122.0,218.0 M100.5,220.2 C107.7,220.2 114.8,221.0 122.0,221.2 M100.5,223.3 C107.7,223.3 114.8,224.6 122.0,224.4 M100.5,226.5 C107.7,226.5 114.8,227.9 122.0,228.5 M100.5,230.6 C107.7,230.6 114.8,232.8 122.0,232.7 M100.5,232.7 C107.7,232.7 114.8,234.3 122.0,234.8 M122.0,71.0 C129.3,69.1 136.7,68.8 144.0,68.8 M122.0,78.2 C129.3,76.4 136.7,68.8 144.0,68.8 M122.0,88.7 C129.3,89.9 136.7,88.1 144.0,88.1 M122.0,92.2 C129.3,94.5 136.7,94.4 144.0,94.4 M122.0,95.3 C129.3,93.5 136.7,94.4 144.0,94.4 M122.0,103.6 C129.3,103.8 136.7,107.9 144.0,107.9 M122.0,107.8 C129.3,107.6 136.7,107.9 144.0,107.9 M122.0,115.0 C129.3,115.3 136.7,117.3 144.0,117.3 M122.0,118.2 C129.3,118.7 136.7,121.5 144.0,121.5 M122.0,120.3 C129.3,119.9 136.7,124.6 144.0,124.6 M122.0,124.5 C129.3,123.6 136.7,126.0 144.0,126.0 M122.0,129.7 C129.3,129.2 136.7,130.2 144.0,130.2 M122.0,141.0 C129.3,142.2 136.7,142.7 144.0,142.7 M122.0,148.4 C129.3,147.0 136.7,143.8 144.0,143.8 M122.0,152.6 C129.3,154.3 136.7,162.5 144.0,162.5 M122.0,156.0 C129.3,158.3 136.7,167.7 144.0,167.7 M122.0,160.2 C129.3,162.2 136.7,169.8 144.0,169.8 M122.0,168.6 C129.3,171.9 136.7,178.1 144.0,178.1 M122.0,190.5 C129.3,190.0 136.7,189.6 144.0,189.6 M122.0,195.7 C129.3,195.3 136.7,196.0 144.0,196.0 M122.0,198.8 C129.3,197.9 136.7,196.0 144.0,196.0 M122.0,204.0 C129.3,203.4 136.7,202.0 144.0,202.0 M122.0,210.2 C129.3,210.9 136.7,215.0 144.0,215.0 M122.0,214.4 C129.3,214.1 136.7,215.0 144.0,215.0 M122.0,218.0 C129.3,217.7 136.7,215.0 144.0,215.0 M122.0,221.2 C129.3,221.6 136.7,222.0 144.0,222.0 M122.0,224.4 C129.3,224.2 136.7,222.0 144.0,222.0 M122.0,228.5 C129.3,229.1 136.7,230.0 144.0,230.0 M122.0,232.7 C129.3,232.6 136.7,230.0 144.0,230.0 M122.0,234.8 C129.3,235.4 136.7,236.0 144.0,236.0 M144.0,68.8 C147.2,68.8 150.5,70.5 153.7,72.0 M144.0,88.1 C147.2,88.1 150.5,81.5 153.7,80.3 M144.0,88.1 C147.2,88.1 150.5,88.7 153.7,88.7 M144.0,88.1 C147.2,88.1 150.5,90.0 153.7,90.0 M144.0,94.4 C147.2,94.4 150.5,98.6 153.7,98.4 M144.0,107.9 C147.2,107.9 150.5,105.7 153.7,105.7 M144.0,107.9 C147.2,107.9 150.5,108.8 153.7,108.8 M144.0,117.3 C147.2,117.3 150.5,117.5 153.7,117.2 M144.0,121.5 C147.2,121.5 150.5,120.3 153.7,120.3 M144.0,124.6 C147.2,124.6 150.5,123.6 153.7,123.4 M144.0,126.0 C147.2,126.0 150.5,125.9 153.7,125.5 M144.0,130.2 C147.2,130.2 150.5,125.9 153.7,125.5 M144.0,142.7 C147.2,142.7 150.5,141.7 153.7,142.2 M144.0,143.8 C147.2,143.8 150.5,149.1 153.7,150.5 M144.0,162.5 C147.2,162.5 150.5,159.4 153.7,159.2 M144.0,167.7 C147.2,167.7 150.5,169.7 153.7,169.6 M144.0,169.8 C147.2,169.8 150.5,169.7 153.7,169.6 M144.0,178.1 C147.2,178.1 150.5,184.0 153.7,185.2 M144.0,189.6 C147.2,189.6 150.5,195.0 153.7,195.7 M144.0,196.0 C147.2,196.0 150.5,198.1 153.7,198.8 M144.0,202.0 C147.2,202.0 150.5,206.9 153.7,208.2 M144.0,215.0 C147.2,215.0 150.5,215.7 153.7,216.5 M144.0,215.0 C147.2,215.0 150.5,216.2 153.7,217.0 M144.0,222.0 C147.2,222.0 150.5,223.6 153.7,223.3 M144.0,230.0 C147.2,230.0 150.5,227.7 153.7,227.5 M144.0,230.0 C147.2,230.0 150.5,231.7 153.7,232.7 M144.0,236.0 C147.2,236.0 150.5,238.0 153.7,238.0 M153.7,72.0 C157.0,73.5 160.2,77.7 163.5,77.7 M153.7,80.3 C157.0,79.1 160.2,80.8 163.5,80.8 M153.7,88.7 C157.0,88.7 160.2,88.1 163.5,88.1 M153.7,90.0 C157.0,90.0 160.2,88.1 163.5,88.1 M153.7,98.4 C157.0,98.2 160.2,93.3 163.5,93.3 M153.7,105.7 C157.0,105.7 160.2,107.9 163.5,107.9 M153.7,108.8 C157.0,108.8 160.2,107.9 163.5,107.9 M153.7,117.2 C157.0,116.8 160.2,115.2 163.5,115.2 M153.7,120.3 C157.0,120.3 160.2,121.5 163.5,121.5 M153.7,123.4 C157.0,123.2 160.2,123.5 163.5,123.5 M153.7,125.5 C157.0,125.0 160.2,126.7 163.5,126.7 M153.7,142.2 C157.0,142.7 160.2,145.8 163.5,145.8 M153.7,150.5 C157.0,151.9 160.2,152.1 163.5,152.1 M153.7,159.2 C157.0,159.0 160.2,161.5 163.5,161.5 M153.7,169.6 C157.0,169.5 160.2,164.6 163.5,164.6 M153.7,169.6 C157.0,169.5 160.2,171.9 163.5,171.9 M153.7,185.2 C157.0,186.5 160.2,185.4 163.5,185.4 M153.7,195.7 C157.0,196.4 160.2,193.8 163.5,193.8 M153.7,198.8 C157.0,199.5 160.2,200.0 163.5,200.0 M153.7,208.2 C157.0,209.5 160.2,210.0 163.5,210.0 M153.7,216.5 C157.0,217.3 160.2,220.0 163.5,220.0 M153.7,217.0 C157.0,217.8 160.2,220.0 163.5,220.0 M153.7,223.3 C157.0,223.0 160.2,220.0 163.5,220.0 M153.7,227.5 C157.0,227.3 160.2,229.0 163.5,229.0 M153.7,232.7 C157.0,233.7 160.2,236.0 163.5,236.0 M153.7,238.0 C157.0,238.0 160.2,236.0 163.5,236.0 M163.5,77.7 C169.8,77.7 176.2,79.6 182.5,81.4 M163.5,80.8 C169.8,80.8 176.2,84.2 182.5,85.5 M163.5,88.1 C169.8,88.1 176.2,90.6 182.5,91.1 M163.5,93.3 C169.8,93.3 176.2,93.8 182.5,94.2 M163.5,93.3 C169.8,93.3 176.2,97.4 182.5,98.4 M163.5,107.9 C169.8,107.9 176.2,104.5 182.5,103.6 M163.5,107.9 C169.8,107.9 176.2,108.5 182.5,108.8 M163.5,115.2 C169.8,115.2 176.2,118.4 182.5,118.2 M163.5,121.5 C169.8,121.5 176.2,121.3 182.5,121.3 M163.5,123.5 C169.8,123.5 176.2,126.6 182.5,127.6 M163.5,126.7 C169.8,126.7 176.2,131.8 182.5,132.8 M163.5,145.8 C169.8,145.8 176.2,140.8 182.5,139.0 M163.5,145.8 C169.8,145.8 176.2,143.7 182.5,142.2 M163.5,152.1 C169.8,152.1 176.2,149.9 182.5,148.4 M163.5,161.5 C169.8,161.5 176.2,156.7 182.5,155.7 M163.5,164.6 C169.8,164.6 176.2,158.4 182.5,157.0 M163.5,171.9 C169.8,171.9 176.2,165.2 182.5,163.4 M163.5,185.4 C169.8,185.4 176.2,199.7 182.5,200.9 M163.5,193.8 C169.8,193.8 176.2,204.8 182.5,206.0 M163.5,200.0 C169.8,200.0 176.2,209.5 182.5,210.2 M163.5,210.0 C169.8,210.0 176.2,213.6 182.5,214.2 M163.5,220.0 C169.8,220.0 176.2,217.2 182.5,216.5 M163.5,220.0 C169.8,220.0 176.2,217.9 182.5,217.3 M163.5,220.0 C169.8,220.0 176.2,220.5 182.5,220.4 M163.5,229.0 C169.8,229.0 176.2,225.7 182.5,224.6 M163.5,229.0 C169.8,229.0 176.2,228.0 182.5,227.7 M163.5,229.0 C169.8,229.0 176.2,231.2 182.5,230.8 M163.5,236.0 C169.8,236.0 176.2,235.5 182.5,234.0 M182.5,81.4 C188.8,83.2 195.2,88.7 201.5,88.7 M182.5,85.5 C188.8,86.8 195.2,88.7 201.5,88.7 M182.5,91.1 C188.8,91.6 195.2,91.1 201.5,91.1 M182.5,94.2 C188.8,94.8 195.2,96.3 201.5,96.3 M182.5,98.4 C188.8,99.4 195.2,99.5 201.5,99.5 M182.5,103.6 C188.8,102.7 195.2,102.6 201.5,102.6 M182.5,108.8 C188.8,109.1 195.2,109.9 201.5,109.9 M182.5,118.2 C188.8,118.0 195.2,114.0 201.5,114.0 M182.5,118.2 C188.8,118.0 195.2,117.2 201.5,117.2 M182.5,121.3 C188.8,121.3 195.2,121.3 201.5,121.3 M182.5,127.6 C188.8,128.6 195.2,129.7 201.5,129.7 M182.5,132.8 C188.8,133.8 195.2,132.8 201.5,132.8 M182.5,139.0 C188.8,137.2 195.2,134.9 201.5,134.9 M182.5,142.2 C188.8,140.7 195.2,137.0 201.5,137.0 M182.5,148.4 C188.8,146.9 195.2,143.2 201.5,143.2 M182.5,155.7 C188.8,154.7 195.2,155.7 201.5,155.7 M182.5,157.0 C188.8,155.6 195.2,156.0 201.5,156.0 M182.5,163.4 C188.8,161.6 195.2,161.3 201.5,161.3 M182.5,200.9 C188.8,202.2 195.2,197.8 201.5,197.8 M182.5,200.9 C188.8,202.2 195.2,199.8 201.5,199.8 M182.5,206.0 C188.8,207.2 195.2,204.0 201.5,204.0 M182.5,206.0 C188.8,207.2 195.2,207.0 201.5,207.0 M182.5,210.2 C188.8,211.0 195.2,208.2 201.5,208.2 M182.5,210.2 C188.8,211.0 195.2,210.2 201.5,210.2 M182.5,210.2 C188.8,211.0 195.2,211.3 201.5,211.3 M182.5,214.2 C188.8,214.8 195.2,213.3 201.5,213.3 M182.5,216.5 C188.8,215.8 195.2,215.5 201.5,215.5 M182.5,217.3 C188.8,216.7 195.2,216.5 201.5,216.5 M182.5,220.4 C188.8,220.3 195.2,219.6 201.5,219.6 M182.5,224.6 C188.8,223.5 195.2,222.7 201.5,222.7 M182.5,227.7 C188.8,227.3 195.2,226.9 201.5,226.9 M182.5,230.8 C188.8,230.5 195.2,226.9 201.5,226.9 M182.5,234.0 C188.8,232.5 195.2,226.9 201.5,226.9 M201.5,88.7 C205.2,88.7 208.8,88.9 212.5,88.7 M201.5,91.1 C205.2,91.1 208.8,92.8 212.5,93.2 M201.5,96.3 C205.2,96.3 208.8,95.9 212.5,96.3 M201.5,99.5 C205.2,99.5 208.8,100.7 212.5,100.5 M201.5,102.6 C205.2,102.6 208.8,104.5 212.5,104.7 M201.5,109.9 C205.2,109.9 208.8,108.2 212.5,107.8 M201.5,114.0 C205.2,114.0 208.8,115.2 212.5,115.0 M201.5,117.2 C205.2,117.2 208.8,118.4 212.5,118.2 M201.5,121.3 C205.2,121.3 208.8,119.1 212.5,120.3 M201.5,129.7 C205.2,129.7 208.8,137.1 212.5,138.0 M201.5,132.8 C205.2,132.8 208.8,137.1 212.5,138.0 M201.5,134.9 C205.2,134.9 208.8,137.1 212.5,138.0 M201.5,137.0 C205.2,137.0 208.8,140.9 212.5,141.1 M201.5,143.2 C205.2,143.2 208.8,143.7 212.5,144.2 M201.5,155.7 C205.2,155.7 208.8,155.7 212.5,155.7 M201.5,156.0 C205.2,156.0 208.8,156.1 212.5,156.0 M201.5,161.3 C205.2,161.3 208.8,160.4 212.5,160.2 M201.5,197.8 C205.2,197.8 208.8,198.8 212.5,198.8 M201.5,199.8 C205.2,199.8 208.8,200.9 212.5,200.9 M201.5,204.0 C205.2,204.0 208.8,204.2 212.5,204.0 M201.5,207.0 C205.2,207.0 208.8,208.3 212.5,208.2 M201.5,208.2 C205.2,208.2 208.8,208.3 212.5,208.2 M201.5,210.2 C205.2,210.2 208.8,211.5 212.5,211.3 M201.5,211.3 C205.2,211.3 208.8,211.8 212.5,212.0 M201.5,213.3 C205.2,213.3 208.8,214.8 212.5,215.2 M201.5,215.5 C205.2,215.5 208.8,215.5 212.5,215.5 M201.5,216.5 C205.2,216.5 208.8,218.1 212.5,218.3 M201.5,219.6 C205.2,219.6 208.8,221.2 212.5,221.5 M201.5,222.7 C205.2,222.7 208.8,224.2 212.5,224.6 M201.5,226.9 C205.2,226.9 208.8,228.0 212.5,227.7 M212.5,88.7 C216.2,88.5 219.8,87.6 223.5,87.6 M212.5,93.2 C216.2,93.6 219.8,93.2 223.5,93.2 M212.5,96.3 C216.2,96.7 219.8,98.4 223.5,98.4 M212.5,100.5 C216.2,100.3 219.8,98.4 223.5,98.4 M212.5,104.7 C216.2,104.9 219.8,103.6 223.5,103.6 M212.5,107.8 C216.2,107.4 219.8,107.8 223.5,107.8 M212.5,115.0 C216.2,114.8 219.8,113.0 223.5,113.0 M212.5,118.2 C216.2,118.0 219.8,116.1 223.5,116.1 M212.5,120.3 C216.2,121.5 219.8,128.6 223.5,128.6 M212.5,138.0 C216.2,138.9 219.8,131.8 223.5,131.8 M212.5,141.1 C216.2,141.3 219.8,138.0 223.5,138.0 M212.5,144.2 C216.2,144.8 219.8,146.3 223.5,146.3 M212.5,155.7 C216.2,155.7 219.8,155.7 223.5,155.7 M212.5,156.0 C216.2,155.9 219.8,155.7 223.5,155.7 M212.5,160.2 C216.2,160.1 219.8,160.2 223.5,160.2 M212.5,198.8 C216.2,198.8 219.8,197.8 223.5,197.8 M212.5,200.9 C216.2,200.9 219.8,199.8 223.5,199.8 M212.5,204.0 C216.2,203.8 219.8,203.0 223.5,203.0 M212.5,208.2 C216.2,208.1 219.8,206.0 223.5,206.0 M212.5,211.3 C216.2,211.1 219.8,209.2 223.5,209.2 M212.5,212.0 C216.2,212.2 219.8,212.3 223.5,212.3 M212.5,215.2 C216.2,215.5 219.8,215.4 223.5,215.4 M212.5,215.5 C216.2,215.5 219.8,215.4 223.5,215.4 M212.5,218.3 C216.2,218.5 219.8,217.5 223.5,217.5 M212.5,221.5 C216.2,221.8 219.8,221.7 223.5,221.7 M212.5,224.6 C216.2,224.9 219.8,224.8 223.5,224.8 M212.5,227.7 C216.2,227.3 219.8,224.8 223.5,224.8 M223.5,87.6 C230.8,87.6 238.2,87.1 245.5,86.6 M223.5,87.6 C230.8,87.6 238.2,89.0 245.5,89.0 M223.5,93.2 C230.8,93.2 238.2,92.6 245.5,92.2 M223.5,93.2 C230.8,93.2 238.2,95.7 245.5,95.3 M223.5,98.4 C230.8,98.4 238.2,99.7 245.5,98.4 M223.5,103.6 C230.8,103.6 238.2,102.0 245.5,103.6 M223.5,107.8 C230.8,107.8 238.2,107.9 245.5,108.8 M223.5,113.0 C230.8,113.0 238.2,117.2 245.5,118.2 M223.5,116.1 C230.8,116.1 238.2,119.8 245.5,120.3 M223.5,128.6 C230.8,128.6 238.2,127.8 245.5,127.6 M223.5,128.6 C230.8,128.6 238.2,129.5 245.5,129.7 M223.5,131.8 C230.8,131.8 238.2,132.8 245.5,132.8 M223.5,138.0 C230.8,138.0 238.2,141.0 245.5,140.0 M223.5,146.3 C230.8,146.3 238.2,145.6 245.5,143.2 M223.5,146.3 C230.8,146.3 238.2,148.9 245.5,150.5 M223.5,155.7 C230.8,155.7 238.2,154.6 245.5,154.7 M223.5,155.7 C230.8,155.7 238.2,155.6 245.5,156.0 M223.5,160.2 C230.8,160.2 238.2,158.9 245.5,159.2 M223.5,197.8 C230.8,197.8 238.2,198.1 245.5,198.8 M223.5,199.8 C230.8,199.8 238.2,200.6 245.5,200.9 M223.5,203.0 C230.8,203.0 238.2,203.7 245.5,204.0 M223.5,206.0 C230.8,206.0 238.2,209.4 245.5,210.2 M223.5,209.2 C230.8,209.2 238.2,210.7 245.5,211.0 M223.5,212.3 C230.8,212.3 238.2,213.5 245.5,214.2 M223.5,215.4 C230.8,215.4 238.2,214.2 245.5,214.4 M223.5,217.5 C230.8,217.5 238.2,217.7 245.5,218.6 M223.5,221.7 C230.8,221.7 238.2,219.8 245.5,220.4 M223.5,221.7 C230.8,221.7 238.2,221.5 245.5,222.5 M223.5,224.8 C230.8,224.8 238.2,224.8 245.5,225.6 M223.5,224.8 C230.8,224.8 238.2,227.4 245.5,228.8 M245.5,86.6 C252.8,86.1 260.2,84.5 267.5,84.5 M245.5,89.0 C252.8,89.0 260.2,87.6 267.5,87.6 M245.5,92.2 C252.8,91.8 260.2,90.8 267.5,90.8 M245.5,95.3 C252.8,94.9 260.2,90.8 267.5,90.8 M245.5,98.4 C252.8,97.1 260.2,90.8 267.5,90.8 M245.5,103.6 C252.8,105.2 260.2,113.0 267.5,113.0 M245.5,108.8 C252.8,109.7 260.2,113.0 267.5,113.0 M245.5,118.2 C252.8,119.2 260.2,119.2 267.5,119.2 M245.5,120.3 C252.8,120.8 260.2,119.2 267.5,119.2 M245.5,127.6 C252.8,127.4 260.2,127.6 267.5,127.6 M245.5,129.7 C252.8,129.9 260.2,129.7 267.5,129.7 M245.5,132.8 C252.8,132.8 260.2,131.8 267.5,131.8 M245.5,140.0 C252.8,139.0 260.2,131.8 267.5,131.8 M245.5,143.2 C252.8,140.8 260.2,131.8 267.5,131.8 M245.5,150.5 C252.8,152.1 260.2,156.0 267.5,156.0 M245.5,154.7 C252.8,154.8 260.2,156.0 267.5,156.0 M245.5,156.0 C252.8,156.4 260.2,158.2 267.5,158.2 M245.5,159.2 C252.8,159.5 260.2,162.3 267.5,162.3 M245.5,198.8 C252.8,199.5 260.2,201.9 267.5,201.9 M245.5,200.9 C252.8,201.2 260.2,201.9 267.5,201.9 M245.5,204.0 C252.8,204.3 260.2,205.0 267.5,205.0 M245.5,210.2 C252.8,211.1 260.2,211.3 267.5,211.3 M245.5,211.0 C252.8,211.3 260.2,211.3 267.5,211.3 M245.5,214.2 C252.8,214.9 260.2,216.5 267.5,216.5 M245.5,214.4 C252.8,214.6 260.2,216.5 267.5,216.5 M245.5,218.6 C252.8,219.5 260.2,222.8 267.5,222.8 M245.5,220.4 C252.8,221.1 260.2,225.6 267.5,225.6 M245.5,222.5 C252.8,223.5 260.2,227.7 267.5,227.7 M245.5,225.6 C252.8,226.4 260.2,229.8 267.5,229.8 M245.5,228.8 C252.8,230.1 260.2,233.0 267.5,233.0 M163.5,161.5 C166.2,159.6 174.8,153.6 180.0,150.0 C185.2,146.4 189.6,142.5 195.0,140.0 C200.4,137.5 206.7,135.3 212.5,135.0 C218.3,134.7 224.6,136.2 230.0,138.0 C235.4,139.8 238.8,142.6 245.0,146.0 C251.2,149.4 263.8,156.2 267.5,158.2 M163.5,164.6 C166.2,162.7 174.8,156.6 180.0,153.0 C185.2,149.4 189.6,145.5 195.0,143.0 C200.4,140.5 206.7,138.3 212.5,138.0 C218.3,137.7 224.6,139.2 230.0,141.0 C235.4,142.8 238.8,145.4 245.0,149.0 C251.2,152.6 263.8,160.1 267.5,162.3 M40.5,188.0 C41.8,185.9 45.6,179.6 48.3,175.4 C51.0,171.2 53.9,166.0 56.7,162.9 C59.5,159.8 60.8,158.1 65.0,156.7 C69.2,155.3 75.5,154.8 81.7,154.6 C88.0,154.4 96.3,154.6 102.5,155.6 C108.7,156.6 114.8,157.9 119.0,160.8 C123.2,163.8 124.7,168.8 127.5,173.3 C130.3,177.8 133.1,184.2 135.8,188.0 C138.6,191.8 142.6,194.7 144.0,196.0 M40.5,191.0 C42.2,188.4 47.4,180.4 50.9,175.4 C54.4,170.4 57.9,164.5 61.3,161.0 C64.7,157.5 66.1,156.0 71.2,154.6 C76.4,153.2 85.0,152.5 92.0,152.5 C99.0,152.5 107.1,152.5 113.0,154.6 C118.9,156.7 123.3,160.5 127.5,165.0 C131.7,169.5 135.2,177.5 137.9,181.7 C140.7,185.9 143.0,188.6 144.0,190.0 M104.0,134.0 C104.8,135.0 106.6,137.3 108.8,140.0 C110.9,142.7 114.2,145.9 117.0,150.4 C119.8,154.9 122.6,161.1 125.4,167.0 C128.2,172.9 131.3,180.9 133.8,185.8 C136.2,190.7 138.3,194.2 140.0,196.2 C141.7,198.3 143.3,197.7 144.0,198.0 M40.5,214.0 C41.5,213.3 44.2,213.7 46.2,210.0 C48.2,206.3 50.1,198.5 52.5,192.0 C54.9,185.5 58.4,177.8 60.8,171.2 C63.2,164.7 64.6,157.7 67.0,152.5 C69.4,147.3 73.2,143.1 75.4,140.0 C77.6,136.9 79.2,135.0 80.0,134.0 M108.0,140.0 C109.2,141.7 112.8,147.3 115.0,150.0 C117.2,152.7 119.2,153.5 121.2,156.2 C123.3,159.0 125.8,163.2 127.5,166.7 C129.2,170.2 130.3,173.5 131.7,177.0 C133.1,180.5 134.4,185.4 135.8,187.5 C137.2,189.6 138.3,188.9 140.0,189.6 C141.7,190.3 143.5,190.8 146.2,191.7 C149.0,192.6 153.8,194.1 156.7,194.8 C159.6,195.5 162.4,195.8 163.5,196.0 M142.0,189.6 C143.1,187.8 146.2,182.5 148.3,179.0 C150.4,175.5 152.9,171.8 154.6,168.8 C156.3,165.7 157.0,162.8 158.8,160.4 C160.5,158.0 162.3,155.9 165.0,154.2 C167.7,152.5 173.3,150.7 175.0,150.0 M40.5,282.3 C41.9,279.5 46.0,270.6 48.9,265.7 C51.8,260.8 54.9,256.6 57.9,253.2 C60.9,249.8 63.5,247.0 66.8,245.2 C70.1,243.3 74.2,242.4 77.5,242.1 C80.8,241.8 83.1,242.9 86.4,243.4 C89.7,243.9 92.9,245.0 97.1,245.2 C101.3,245.4 107.8,244.5 111.4,244.6 C115.0,244.7 116.2,244.6 118.6,246.0 C121.0,247.4 123.0,249.6 125.7,253.2 C128.4,256.8 131.5,262.6 134.6,267.5 C137.7,272.4 142.4,279.8 144.0,282.3 M40.5,282.3 C42.2,279.8 47.5,272.1 50.7,267.5 C53.9,262.9 56.6,258.1 59.6,255.0 C62.6,251.9 65.6,250.1 68.6,248.8 C71.6,247.4 73.3,247.3 77.5,247.0 C81.7,246.7 87.9,247.0 93.6,247.0 C99.2,247.0 106.9,246.6 111.4,247.0 C115.9,247.4 117.4,247.7 120.4,249.6 C123.4,251.5 125.4,253.2 129.3,258.6 C133.2,264.1 141.6,278.4 144.0,282.3 M40.5,282.3 C42.4,280.0 48.3,272.7 51.6,268.4 C54.9,264.1 57.5,259.5 60.5,256.4 C63.5,253.3 66.7,250.9 69.5,249.6 C72.3,248.3 73.5,248.7 77.5,248.5 C81.5,248.3 87.9,248.5 93.6,248.5 C99.2,248.5 106.8,248.1 111.4,248.5 C116.0,248.9 118.1,249.0 121.2,251.0 C124.3,253.0 126.4,255.2 130.2,260.4 C134.0,265.6 141.7,278.6 144.0,282.3 M40.5,266.0 C41.2,264.7 43.4,261.5 45.0,258.0 C46.6,254.5 47.9,249.1 50.0,245.0 C52.1,240.9 55.4,236.8 57.9,233.6 C60.4,230.4 61.5,227.9 65.0,226.0 C68.5,224.1 76.3,222.7 78.6,222.0 M100.5,223.0 C102.9,223.8 110.9,225.8 115.0,228.0 C119.1,230.2 122.0,231.9 125.0,236.0 C128.0,240.1 130.5,247.8 132.8,252.5 C135.1,257.2 137.2,261.8 139.0,264.0 C140.8,266.2 142.1,266.2 143.5,266.0 C144.9,265.8 146.0,264.3 147.4,263.0 C148.8,261.7 149.8,258.1 152.0,258.0 C154.2,257.9 157.6,261.1 160.4,262.3 C163.2,263.5 165.6,264.0 168.8,265.4 C171.9,266.8 176.2,268.5 179.2,270.6 C182.2,272.7 184.9,275.6 186.5,277.9 C188.1,280.2 187.6,282.3 188.5,284.2 C189.4,286.1 189.4,288.2 191.7,289.4 C193.9,290.6 196.8,291.1 202.0,291.5 C207.2,291.9 217.3,292.5 222.9,292.1 C228.5,291.8 232.3,290.9 235.4,289.4 C238.5,287.9 240.1,285.2 241.7,283.1 C243.3,281.0 243.1,279.0 244.8,276.9 C246.5,274.8 248.3,272.5 252.1,270.6 C255.9,268.7 264.9,266.3 267.5,265.4 M163.5,248.8 C166.5,247.9 174.8,244.7 181.2,243.5 C187.7,242.3 196.8,241.7 202.0,241.5 C207.2,241.3 207.3,242.5 212.5,242.5 C217.7,242.5 227.1,241.0 233.3,241.5 C239.6,242.0 244.3,243.0 250.0,245.6 C255.7,248.2 264.6,255.1 267.5,257.0 M163.5,246.7 C166.5,245.5 174.8,241.3 181.2,239.4 C187.7,237.5 195.0,236.1 202.0,235.2 C209.0,234.3 216.0,233.7 223.0,234.2 C230.0,234.7 236.3,234.8 243.8,238.3 C251.2,241.8 263.5,252.2 267.5,255.0 M163.5,242.5 C166.5,240.9 174.8,234.9 181.2,233.0 C187.7,231.1 195.0,231.5 202.0,231.0 C209.0,230.5 215.0,229.2 223.0,230.0 C231.0,230.8 242.6,232.3 250.0,236.0 C257.4,239.7 264.6,249.3 267.5,252.0 M163.5,239.0 C166.4,237.2 174.6,230.0 181.0,228.0 C187.4,226.0 195.0,227.5 202.0,227.0 C209.0,226.5 215.0,224.2 223.0,225.0 C231.0,225.8 242.6,227.8 250.0,232.0 C257.4,236.2 264.6,247.0 267.5,250.0 M40.5,71.0 C41.8,71.4 45.9,72.4 48.3,73.5 C50.6,74.6 52.5,76.1 54.6,77.7 C56.7,79.3 58.7,81.2 60.8,82.9 C62.9,84.6 65.0,86.5 67.1,88.1 C69.2,89.7 71.4,91.4 73.3,92.3 C75.2,93.2 75.9,92.9 78.6,93.3 C81.3,93.7 85.8,94.2 89.5,94.4 C93.2,94.6 98.7,94.4 100.5,94.4 M40.5,88.0 C41.5,88.2 44.2,88.5 46.2,89.2 C48.2,89.9 50.4,90.9 52.5,92.3 C54.6,93.7 56.7,95.6 58.8,97.5 C60.8,99.4 62.9,101.8 65.0,103.8 C67.1,105.7 69.0,107.8 71.2,109.0 C73.5,110.2 75.8,110.5 78.6,111.0 C81.4,111.5 84.2,111.7 87.9,111.7 C91.6,111.7 98.4,111.1 100.5,111.0 M40.5,90.5 C41.5,90.7 44.2,91.0 46.2,91.7 C48.2,92.4 50.4,93.4 52.5,94.8 C54.6,96.2 56.7,98.1 58.8,100.0 C60.8,101.9 62.9,104.3 65.0,106.2 C67.1,108.2 69.0,110.3 71.2,111.5 C73.5,112.7 75.8,113.0 78.6,113.5 C81.4,114.0 84.2,114.2 87.9,114.2 C91.6,114.2 98.4,113.6 100.5,113.5 M40.5,200.0 C41.2,198.8 43.4,195.4 45.0,193.0 C46.6,190.6 48.1,189.1 50.0,185.4 C51.9,181.7 54.2,175.7 56.2,170.8 C58.3,165.9 60.4,160.4 62.5,156.2 C64.6,152.1 66.3,148.6 68.8,145.8 C71.2,143.0 73.2,141.7 77.0,139.6 C80.8,137.5 87.8,134.4 91.7,133.3 C95.6,132.2 99.0,133.1 100.5,133.0 M40.5,107.3 C50.4,107.3 82.8,107.2 100.0,107.3 C117.2,107.4 133.4,107.8 144.0,107.9 C154.6,108.0 160.2,107.9 163.5,107.9"/>
</g>
<g id="bands2" clip-path="url(#c2)" fill="none" stroke-width="1.75" stroke-linejoin="round" stroke-linecap="round">
<path stroke="#000" d="M273.3,37.5 C280.9,37.5 288.4,36.1 296.0,35.5 M273.3,38.2 C280.9,38.2 288.4,39.1 296.0,39.6 M273.3,41.7 C280.9,41.7 288.4,42.6 296.0,42.8 M273.3,41.7 C280.9,41.7 288.4,44.3 296.0,44.8 M273.3,49.0 C280.9,49.0 288.4,50.7 296.0,51.0 M273.3,55.2 C280.9,55.2 288.4,54.4 296.0,54.2 M273.3,57.3 C280.9,57.3 288.4,57.2 296.0,57.3 M273.3,62.5 C280.9,62.5 288.4,60.4 296.0,60.5 M273.3,63.6 C280.9,63.6 288.4,64.1 296.0,64.6 M273.3,63.6 C280.9,63.6 288.4,67.9 296.0,68.8 M273.3,76.0 C280.9,76.0 288.4,76.3 296.0,76.1 M273.3,78.2 C280.9,78.2 288.4,81.3 296.0,81.3 M273.3,78.2 C280.9,78.2 288.4,84.1 296.0,85.5 M273.3,78.2 C280.9,78.2 288.4,89.5 296.0,91.0 M273.3,116.0 C280.9,116.0 288.4,113.7 296.0,114.0 M273.3,118.1 C280.9,118.1 288.4,120.2 296.0,120.2 M273.3,124.4 C280.9,124.4 288.4,125.1 296.0,125.4 M273.3,126.5 C280.9,126.5 288.4,126.8 296.0,127.5 M273.3,130.6 C280.9,130.6 288.4,129.4 296.0,130.6 M273.3,133.8 C280.9,133.8 288.4,132.9 296.0,133.8 M273.3,141.0 C280.9,141.0 288.4,132.9 296.0,133.8 M273.3,157.0 C280.9,157.0 288.4,161.6 296.0,161.2 M273.3,164.3 C280.9,164.3 288.4,167.1 296.0,167.5 M273.3,174.8 C280.9,174.8 288.4,171.8 296.0,171.6 M273.3,181.0 C280.9,181.0 288.4,180.8 296.0,181.0 M273.3,188.3 C280.9,188.3 288.4,187.5 296.0,187.2 M273.3,193.5 C280.9,193.5 288.4,187.5 296.0,187.2 M273.3,201.8 C280.9,201.8 288.4,201.1 296.0,200.8 M296.0,35.5 C303.6,34.9 311.2,33.8 318.8,33.8 M296.0,39.6 C303.6,40.1 311.2,41.0 318.8,41.0 M296.0,42.8 C303.6,42.9 311.2,42.8 318.8,42.8 M296.0,44.8 C303.6,45.3 311.2,44.5 318.8,44.5 M296.0,51.0 C303.6,51.3 311.2,51.0 318.8,51.0 M296.0,54.2 C303.6,54.0 311.2,54.0 318.8,54.0 M296.0,57.3 C303.6,57.4 311.2,58.0 318.8,58.0 M296.0,60.5 C303.6,60.6 311.2,63.0 318.8,63.0 M296.0,64.6 C303.6,65.1 311.2,66.7 318.8,66.7 M296.0,68.8 C303.6,69.7 311.2,69.0 318.8,69.0 M296.0,76.1 C303.6,75.9 311.2,75.0 318.8,75.0 M296.0,81.3 C303.6,81.3 311.2,78.0 318.8,78.0 M296.0,85.5 C303.6,86.9 311.2,86.5 318.8,86.5 M296.0,91.0 C303.6,92.5 311.2,90.5 318.8,90.5 M296.0,91.0 C303.6,92.5 311.2,92.0 318.8,92.0 M296.0,114.0 C303.6,114.3 311.2,118.1 318.8,118.1 M296.0,120.2 C303.6,120.2 311.2,118.1 318.8,118.1 M296.0,125.4 C303.6,125.8 311.2,126.5 318.8,126.5 M296.0,127.5 C303.6,128.2 311.2,130.6 318.8,130.6 M296.0,130.6 C303.6,131.8 311.2,137.9 318.8,137.9 M296.0,133.8 C303.6,134.6 311.2,148.3 318.8,148.3 M296.0,161.2 C303.6,160.8 311.2,154.6 318.8,154.6 M296.0,161.2 C303.6,160.8 311.2,160.2 318.8,160.2 M296.0,167.5 C303.6,167.9 311.2,166.4 318.8,166.4 M296.0,171.6 C303.6,171.4 311.2,173.7 318.8,173.7 M296.0,181.0 C303.6,181.2 311.2,182.0 318.8,182.0 M296.0,187.2 C303.6,187.0 311.2,186.2 318.8,186.2 M296.0,187.2 C303.6,187.0 311.2,192.5 318.8,192.5 M296.0,200.8 C303.6,200.5 311.2,199.8 318.8,199.8 M318.8,33.8 C323.2,33.8 327.6,32.6 332.0,33.4 M318.8,41.0 C323.2,41.0 327.6,40.6 332.0,40.7 M318.8,42.8 C323.2,42.8 327.6,42.8 332.0,42.8 M318.8,44.5 C323.2,44.5 327.6,44.8 332.0,44.8 M318.8,51.0 C323.2,51.0 327.6,51.3 332.0,51.0 M318.8,54.0 C323.2,54.0 327.6,54.4 332.0,55.2 M318.8,58.0 C323.2,58.0 327.6,60.3 332.0,60.5 M318.8,63.0 C323.2,63.0 327.6,63.0 332.0,63.6 M318.8,66.7 C323.2,66.7 327.6,66.4 332.0,66.7 M318.8,69.0 C323.2,69.0 327.6,68.5 332.0,68.8 M318.8,75.0 C323.2,75.0 327.6,74.2 332.0,74.0 M318.8,78.0 C323.2,78.0 327.6,77.7 332.0,78.2 M318.8,86.5 C323.2,86.5 327.6,86.7 332.0,86.5 M318.8,90.5 C323.2,90.5 327.6,91.0 332.0,90.7 M318.8,92.0 C323.2,92.0 327.6,91.5 332.0,92.0 M318.8,118.1 C323.2,118.1 327.6,115.6 332.0,112.9 M318.8,126.5 C323.2,126.5 327.6,127.9 332.0,126.5 M318.8,130.6 C323.2,130.6 327.6,130.6 332.0,129.6 M318.8,137.9 C323.2,137.9 327.6,138.4 332.0,137.9 M318.8,148.3 C323.2,148.3 327.6,151.2 332.0,150.4 M318.8,154.6 C323.2,154.6 327.6,151.2 332.0,150.4 M318.8,160.2 C323.2,160.2 327.6,161.5 332.0,161.2 M318.8,166.4 C323.2,166.4 327.6,164.3 332.0,164.3 M318.8,173.7 C323.2,173.7 327.6,177.9 332.0,177.9 M318.8,182.0 C323.2,182.0 327.6,177.9 332.0,177.9 M318.8,186.2 C323.2,186.2 327.6,186.4 332.0,186.2 M318.8,192.5 C323.2,192.5 327.6,188.0 332.0,188.3 M318.8,199.8 C323.2,199.8 327.6,200.6 332.0,200.8 M332.0,33.4 C336.5,34.2 341.0,38.6 345.5,38.6 M332.0,40.7 C336.5,40.8 341.0,41.7 345.5,41.7 M332.0,42.8 C336.5,42.8 341.0,42.8 345.5,42.8 M332.0,44.8 C336.5,44.9 341.0,44.8 345.5,44.8 M332.0,51.0 C336.5,50.7 341.0,49.0 345.5,49.0 M332.0,55.2 C336.5,56.2 341.0,59.4 345.5,59.4 M332.0,60.5 C336.5,60.7 341.0,59.4 345.5,59.4 M332.0,63.6 C336.5,64.2 341.0,66.7 345.5,66.7 M332.0,66.7 C336.5,67.0 341.0,68.8 345.5,68.8 M332.0,68.8 C336.5,69.1 341.0,70.9 345.5,70.9 M332.0,74.0 C336.5,73.8 341.0,74.0 345.5,74.0 M332.0,78.2 C336.5,78.8 341.0,81.3 345.5,81.3 M332.0,86.5 C336.5,86.3 341.0,85.5 345.5,85.5 M332.0,90.7 C336.5,90.4 341.0,88.6 345.5,88.6 M332.0,92.0 C336.5,92.5 341.0,95.2 345.5,95.2 M332.0,112.9 C336.5,110.1 341.0,101.5 345.5,101.5 M332.0,126.5 C336.5,125.1 341.0,118.1 345.5,118.1 M332.0,129.6 C336.5,128.6 341.0,124.4 345.5,124.4 M332.0,137.9 C336.5,137.4 341.0,134.8 345.5,134.8 M332.0,150.4 C336.5,149.6 341.0,145.2 345.5,145.2 M332.0,161.2 C336.5,160.9 341.0,158.8 345.5,158.8 M332.0,161.2 C336.5,160.9 341.0,159.1 345.5,159.1 M332.0,161.2 C336.5,160.9 341.0,161.2 345.5,161.2 M332.0,164.3 C336.5,164.3 341.0,166.4 345.5,166.4 M332.0,177.9 C336.5,177.9 341.0,177.9 345.5,177.9 M332.0,186.2 C336.5,186.0 341.0,185.2 345.5,185.2 M332.0,188.3 C336.5,188.6 341.0,194.5 345.5,194.5 M332.0,200.8 C336.5,201.0 341.0,200.8 345.5,200.8 M345.5,38.6 C354.3,38.6 363.2,34.7 372.0,34.4 M345.5,41.7 C354.3,41.7 363.2,40.1 372.0,39.6 M345.5,42.8 C354.3,42.8 363.2,42.4 372.0,42.8 M345.5,44.8 C354.3,44.8 363.2,44.8 372.0,44.8 M345.5,49.0 C354.3,49.0 363.2,47.8 372.0,48.0 M345.5,49.0 C354.3,49.0 363.2,53.0 372.0,53.2 M345.5,59.4 C354.3,59.4 363.2,56.6 372.0,56.3 M345.5,59.4 C354.3,59.4 363.2,59.8 372.0,59.4 M345.5,66.7 C354.3,66.7 363.2,64.3 372.0,63.6 M345.5,68.8 C354.3,68.8 363.2,67.7 372.0,67.8 M345.5,70.9 C354.3,70.9 363.2,71.3 372.0,70.9 M345.5,74.0 C354.3,74.0 363.2,74.5 372.0,75.0 M345.5,81.3 C354.3,81.3 363.2,83.0 372.0,82.3 M345.5,85.5 C354.3,85.5 363.2,87.7 372.0,86.5 M345.5,88.6 C354.3,88.6 363.2,87.7 372.0,86.5 M345.5,95.2 C354.3,95.2 363.2,98.0 372.0,101.5 M345.5,101.5 C354.3,101.5 363.2,110.2 372.0,114.0 M345.5,118.1 C354.3,118.1 363.2,115.7 372.0,117.1 M345.5,124.4 C354.3,124.4 363.2,127.5 372.0,128.5 M345.5,134.8 C354.3,134.8 363.2,131.7 372.0,131.7 M345.5,145.2 C354.3,145.2 363.2,141.7 372.0,141.0 M345.5,158.8 C354.3,158.8 363.2,153.4 372.0,153.5 M345.5,159.1 C354.3,159.1 363.2,161.2 372.0,161.2 M345.5,161.2 C354.3,161.2 363.2,161.2 372.0,161.2 M345.5,166.4 C354.3,166.4 363.2,164.5 372.0,164.3 M345.5,177.9 C354.3,177.9 363.2,173.7 372.0,173.7 M345.5,185.2 C354.3,185.2 363.2,186.6 372.0,186.2 M345.5,194.5 C354.3,194.5 363.2,189.2 372.0,188.3 M345.5,200.8 C354.3,200.8 363.2,194.8 372.0,196.6 M372.0,34.4 C380.7,34.1 389.3,36.5 398.0,36.5 M372.0,39.6 C380.7,39.1 389.3,38.6 398.0,38.6 M372.0,42.8 C380.7,43.1 389.3,44.8 398.0,44.8 M372.0,44.8 C380.7,44.8 389.3,44.8 398.0,44.8 M372.0,48.0 C380.7,48.2 389.3,50.0 398.0,50.0 M372.0,53.2 C380.7,53.4 389.3,50.0 398.0,50.0 M372.0,56.3 C380.7,56.0 389.3,57.3 398.0,57.3 M372.0,59.4 C380.7,59.0 389.3,57.3 398.0,57.3 M372.0,63.6 C380.7,62.9 389.3,62.5 398.0,62.5 M372.0,67.8 C380.7,67.8 389.3,68.8 398.0,68.8 M372.0,70.9 C380.7,70.6 389.3,68.8 398.0,68.8 M372.0,75.0 C380.7,75.5 389.3,77.1 398.0,77.1 M372.0,82.3 C380.7,81.6 389.3,77.1 398.0,77.1 M372.0,86.5 C380.7,85.3 389.3,77.1 398.0,77.1 M372.0,101.5 C380.7,104.9 389.3,116.0 398.0,116.0 M372.0,114.0 C380.7,117.8 389.3,124.4 398.0,124.4 M372.0,117.1 C380.7,118.5 389.3,126.5 398.0,126.5 M372.0,128.5 C380.7,129.5 389.3,130.6 398.0,130.6 M372.0,131.7 C380.7,131.7 389.3,134.8 398.0,134.8 M372.0,141.0 C380.7,140.3 389.3,141.0 398.0,141.0 M372.0,153.5 C380.7,153.6 389.3,159.1 398.0,159.1 M372.0,161.2 C380.7,161.2 389.3,159.1 398.0,159.1 M372.0,164.3 C380.7,164.1 389.3,165.4 398.0,165.4 M372.0,173.7 C380.7,173.7 389.3,177.9 398.0,177.9 M372.0,186.2 C380.7,185.8 389.3,183.1 398.0,183.1 M372.0,188.3 C380.7,187.5 389.3,189.3 398.0,189.3 M372.0,196.6 C380.7,198.3 389.3,200.8 398.0,200.8 M372.0,196.6 C380.7,198.3 389.3,212.2 398.0,212.2 M273.3,246.2 C274.1,246.5 276.1,247.4 278.0,248.0 C279.9,248.6 281.3,249.8 284.5,250.0 C287.7,250.2 291.3,249.6 297.0,249.4 C302.7,249.2 312.5,249.0 318.8,249.0 C325.1,249.0 328.8,249.3 335.0,249.4 C341.2,249.5 349.0,249.8 356.0,249.8 C363.0,249.8 371.5,249.5 377.0,249.4 C382.5,249.3 385.5,249.9 389.0,249.4 C392.5,248.9 396.5,246.8 398.0,246.2 M273.3,245.2 C274.1,244.3 276.4,242.2 278.3,240.0 C280.2,237.8 282.4,234.8 284.5,231.7 C286.6,228.6 288.8,225.2 290.8,221.2 C292.7,217.3 294.0,212.2 296.0,208.0 C298.0,203.8 300.7,199.0 303.0,196.0 C305.3,193.0 307.4,191.3 310.0,190.0 C312.6,188.7 315.1,188.5 318.8,188.0 C322.5,187.5 327.6,187.0 332.0,187.0 C336.4,187.0 340.8,187.2 345.5,188.0 C350.2,188.8 356.6,190.0 360.0,192.0 C363.4,194.0 363.9,196.5 366.0,200.0 C368.1,203.5 370.0,209.1 372.5,213.0 C375.0,216.9 378.4,219.8 380.8,223.3 C383.2,226.8 385.3,231.0 387.0,233.8 C388.7,236.5 389.2,238.6 391.0,240.0 C392.8,241.4 396.8,241.7 398.0,242.0 M273.3,242.0 C274.4,240.3 277.7,236.0 280.0,232.0 C282.3,228.0 284.7,222.8 287.0,218.0 C289.3,213.2 291.5,207.3 294.0,203.0 C296.5,198.7 299.3,194.8 302.0,192.0 C304.7,189.2 307.2,187.3 310.0,186.0 C312.8,184.7 315.1,184.5 318.8,184.0 C322.5,183.5 327.6,183.0 332.0,183.0 C336.4,183.0 341.2,183.2 345.5,184.0 C349.8,184.8 354.6,186.2 358.0,188.0 C361.4,189.8 363.3,191.7 366.0,195.0 C368.7,198.3 371.3,203.5 374.0,208.0 C376.7,212.5 379.3,217.5 382.0,222.0 C384.7,226.5 387.3,232.0 390.0,235.0 C392.7,238.0 396.7,239.2 398.0,240.0 M278.0,135.0 C279.1,133.1 281.8,126.3 284.5,123.3 C287.2,120.3 291.6,119.4 294.3,117.0 C297.0,114.6 298.5,111.5 300.6,108.8 C302.7,106.0 304.7,102.8 306.8,100.4 C308.9,98.0 311.0,95.8 313.0,94.2 C315.0,92.6 317.8,91.5 318.8,91.0 M278.0,137.5 C279.1,135.6 281.8,128.8 284.5,125.8 C287.2,122.8 291.6,121.9 294.3,119.5 C297.0,117.1 298.5,114.0 300.6,111.2 C302.7,108.5 304.7,105.3 306.8,102.9 C308.9,100.5 311.0,98.3 313.0,96.7 C315.0,95.1 317.8,94.0 318.8,93.5"/>
<path stroke="#f00" d="M273.3,73.0 C280.9,73.0 288.4,73.2 296.0,74.0 M273.3,74.0 C280.9,74.0 288.4,73.2 296.0,74.0 M273.3,86.5 C280.9,86.5 288.4,79.0 296.0,78.2 M273.3,88.0 C280.9,88.0 288.4,89.7 296.0,90.7 M273.3,91.0 C280.9,91.0 288.4,94.7 296.0,95.2 M273.3,94.2 C280.9,94.2 288.4,97.3 296.0,98.3 M273.3,98.3 C280.9,98.3 288.4,100.6 296.0,101.5 M273.3,109.8 C280.9,109.8 288.4,106.1 296.0,105.6 M273.3,111.9 C280.9,111.9 288.4,110.6 296.0,110.8 M273.3,122.3 C280.9,122.3 288.4,118.6 296.0,118.1 M273.3,122.3 C280.9,122.3 288.4,123.3 296.0,123.3 M273.3,134.8 C280.9,134.8 288.4,138.1 296.0,137.9 M273.3,144.2 C280.9,144.2 288.4,142.8 296.0,142.1 M273.3,144.2 C280.9,144.2 288.4,146.1 296.0,146.2 M273.3,148.3 C280.9,148.3 288.4,150.1 296.0,150.4 M273.3,152.5 C280.9,152.5 288.4,153.7 296.0,154.6 M273.3,160.2 C280.9,160.2 288.4,157.5 296.0,158.0 M273.3,166.4 C280.9,166.4 288.4,164.0 296.0,164.3 M273.3,170.6 C280.9,170.6 288.4,174.5 296.0,174.8 M273.3,177.9 C280.9,177.9 288.4,177.6 296.0,177.9 M273.3,183.1 C280.9,183.1 288.4,183.9 296.0,184.1 M273.3,191.4 C280.9,191.4 288.4,189.8 296.0,189.3 M273.3,191.4 C280.9,191.4 288.4,192.0 296.0,192.5 M273.3,203.9 C280.9,203.9 288.4,197.9 296.0,197.7 M273.3,203.9 C280.9,203.9 288.4,203.7 296.0,204.0 M273.3,212.2 C280.9,212.2 288.4,209.4 296.0,209.1 M273.3,212.2 C280.9,212.2 288.4,213.0 296.0,213.3 M273.3,212.2 C280.9,212.2 288.4,217.5 296.0,218.5 M296.0,74.0 C303.6,74.8 311.2,80.2 318.8,80.2 M296.0,78.2 C303.6,77.4 311.2,82.0 318.8,82.0 M296.0,90.7 C303.6,91.7 311.2,94.2 318.8,94.2 M296.0,95.2 C303.6,95.7 311.2,94.2 318.8,94.2 M296.0,98.3 C303.6,99.3 311.2,100.4 318.8,100.4 M296.0,101.5 C303.6,102.4 311.2,103.5 318.8,103.5 M296.0,105.6 C303.6,105.1 311.2,106.7 318.8,106.7 M296.0,110.8 C303.6,111.0 311.2,112.9 318.8,112.9 M296.0,118.1 C303.6,117.6 311.2,116.0 318.8,116.0 M296.0,118.1 C303.6,117.6 311.2,120.2 318.8,120.2 M296.0,123.3 C303.6,123.3 311.2,122.3 318.8,122.3 M296.0,137.9 C303.6,137.7 311.2,133.8 318.8,133.8 M296.0,142.1 C303.6,141.4 311.2,140.0 318.8,140.0 M296.0,146.2 C303.6,146.4 311.2,145.2 318.8,145.2 M296.0,150.4 C303.6,150.8 311.2,150.4 318.8,150.4 M296.0,154.6 C303.6,155.5 311.2,158.0 318.8,158.0 M296.0,158.0 C303.6,158.5 311.2,163.3 318.8,163.3 M296.0,164.3 C303.6,164.6 311.2,168.5 318.8,168.5 M296.0,174.8 C303.6,175.0 311.2,171.6 318.8,171.6 M296.0,174.8 C303.6,175.0 311.2,175.8 318.8,175.8 M296.0,177.9 C303.6,178.2 311.2,180.0 318.8,180.0 M296.0,184.1 C303.6,184.3 311.2,184.1 318.8,184.1 M296.0,189.3 C303.6,188.8 311.2,188.3 318.8,188.3 M296.0,192.5 C303.6,193.0 311.2,194.5 318.8,194.5 M296.0,197.7 C303.6,197.5 311.2,202.9 318.8,202.9 M296.0,204.0 C303.6,204.4 311.2,206.0 318.8,206.0 M296.0,209.1 C303.6,208.8 311.2,210.2 318.8,210.2 M296.0,213.3 C303.6,213.6 311.2,214.3 318.8,214.3 M296.0,218.5 C303.6,219.5 311.2,218.5 318.8,218.5 M318.8,80.2 C323.2,80.2 327.6,81.3 332.0,81.3 M318.8,82.0 C323.2,82.0 327.6,81.8 332.0,83.4 M318.8,94.2 C323.2,94.2 327.6,95.6 332.0,95.2 M318.8,100.4 C323.2,100.4 327.6,99.7 332.0,99.4 M318.8,103.5 C323.2,103.5 327.6,103.9 332.0,104.6 M318.8,106.7 C323.2,106.7 327.6,107.5 332.0,107.7 M318.8,112.9 C323.2,112.9 327.6,111.2 332.0,110.8 M318.8,116.0 C323.2,116.0 327.6,117.2 332.0,117.0 M318.8,120.2 C323.2,120.2 327.6,120.0 332.0,120.2 M318.8,122.3 C323.2,122.3 327.6,123.5 332.0,124.4 M318.8,133.8 C323.2,133.8 327.6,134.3 332.0,133.8 M318.8,140.0 C323.2,140.0 327.6,142.1 332.0,142.1 M318.8,145.2 C323.2,145.2 327.6,145.4 332.0,146.2 M318.8,150.4 C323.2,150.4 327.6,153.9 332.0,154.6 M318.8,158.0 C323.2,158.0 327.6,158.2 332.0,158.0 M318.8,163.3 C323.2,163.3 327.6,167.6 332.0,167.5 M318.8,168.5 C323.2,168.5 327.6,167.6 332.0,167.5 M318.8,171.6 C323.2,171.6 327.6,171.8 332.0,171.6 M318.8,175.8 C323.2,175.8 327.6,174.8 332.0,174.8 M318.8,180.0 C323.2,180.0 327.6,180.8 332.0,181.0 M318.8,184.1 C323.2,184.1 327.6,185.2 332.0,185.2 M318.8,188.3 C323.2,188.3 327.6,191.6 332.0,191.4 M318.8,194.5 C323.2,194.5 327.6,194.8 332.0,194.5 M318.8,202.9 C323.2,202.9 327.6,198.6 332.0,197.7 M318.8,206.0 C323.2,206.0 327.6,203.2 332.0,202.9 M318.8,210.2 C323.2,210.2 327.6,208.5 332.0,208.1 M318.8,214.3 C323.2,214.3 327.6,213.3 332.0,213.3 M318.8,218.5 C323.2,218.5 327.6,218.5 332.0,218.5 M318.8,218.5 C323.2,218.5 327.6,222.7 332.0,222.7 M332.0,81.3 C336.5,81.3 341.0,80.2 345.5,80.2 M332.0,83.4 C336.5,85.0 341.0,91.7 345.5,91.7 M332.0,95.2 C336.5,94.8 341.0,92.0 345.5,92.0 M332.0,99.4 C336.5,99.0 341.0,98.3 345.5,98.3 M332.0,104.6 C336.5,105.3 341.0,107.7 345.5,107.7 M332.0,107.7 C336.5,107.9 341.0,107.7 345.5,107.7 M332.0,110.8 C336.5,110.4 341.0,110.8 345.5,110.8 M332.0,117.0 C336.5,116.8 341.0,115.0 345.5,115.0 M332.0,120.2 C336.5,120.4 341.0,121.2 345.5,121.2 M332.0,124.4 C336.5,125.3 341.0,127.5 345.5,127.5 M332.0,133.8 C336.5,133.2 341.0,130.6 345.5,130.6 M332.0,142.1 C336.5,142.1 341.0,140.0 345.5,140.0 M332.0,146.2 C336.5,147.1 341.0,150.4 345.5,150.4 M332.0,154.6 C336.5,155.3 341.0,154.6 345.5,154.6 M332.0,158.0 C336.5,157.8 341.0,157.0 345.5,157.0 M332.0,167.5 C336.5,167.4 341.0,163.3 345.5,163.3 M332.0,171.6 C336.5,171.4 341.0,170.6 345.5,170.6 M332.0,174.8 C336.5,174.7 341.0,175.8 345.5,175.8 M332.0,181.0 C336.5,181.2 341.0,181.0 345.5,181.0 M332.0,185.2 C336.5,185.2 341.0,184.1 345.5,184.1 M332.0,191.4 C336.5,191.2 341.0,187.2 345.5,187.2 M332.0,194.5 C336.5,194.2 341.0,192.5 345.5,192.5 M332.0,197.7 C336.5,196.8 341.0,197.7 345.5,197.7 M332.0,202.9 C336.5,202.6 341.0,204.0 345.5,204.0 M332.0,208.1 C336.5,207.7 341.0,208.0 345.5,208.0 M332.0,213.3 C336.5,213.3 341.0,214.3 345.5,214.3 M332.0,218.5 C336.5,218.5 341.0,218.5 345.5,218.5 M332.0,222.7 C336.5,222.7 341.0,218.5 345.5,218.5 M345.5,80.2 C354.3,80.2 363.2,79.3 372.0,78.2 M345.5,80.2 C354.3,80.2 363.2,79.9 372.0,80.2 M345.5,91.7 C354.3,91.7 363.2,91.6 372.0,90.7 M345.5,92.0 C354.3,92.0 363.2,91.8 372.0,92.0 M345.5,98.3 C354.3,98.3 363.2,96.1 372.0,95.2 M345.5,98.3 C354.3,98.3 363.2,97.3 372.0,97.3 M345.5,107.7 C354.3,107.7 363.2,105.9 372.0,105.6 M345.5,107.7 C354.3,107.7 363.2,107.2 372.0,107.7 M345.5,110.8 C354.3,110.8 363.2,110.6 372.0,110.8 M345.5,115.0 C354.3,115.0 363.2,119.0 372.0,120.2 M345.5,121.2 C354.3,121.2 363.2,123.1 372.0,123.3 M345.5,127.5 C354.3,127.5 363.2,126.3 372.0,126.5 M345.5,130.6 C354.3,130.6 363.2,135.2 372.0,134.8 M345.5,140.0 C354.3,140.0 363.2,138.3 372.0,139.0 M345.5,140.0 C354.3,140.0 363.2,143.5 372.0,144.2 M345.5,150.4 C354.3,150.4 363.2,150.4 372.0,150.4 M345.5,154.6 C354.3,154.6 363.2,156.9 372.0,156.7 M345.5,157.0 C354.3,157.0 363.2,158.2 372.0,158.0 M345.5,163.3 C354.3,163.3 363.2,165.7 372.0,166.4 M345.5,170.6 C354.3,170.6 363.2,171.1 372.0,170.6 M345.5,175.8 C354.3,175.8 363.2,177.2 372.0,176.8 M345.5,181.0 C354.3,181.0 363.2,179.3 372.0,180.0 M345.5,184.1 C354.3,184.1 363.2,182.9 372.0,183.1 M345.5,187.2 C354.3,187.2 363.2,189.2 372.0,190.4 M345.5,192.5 C354.3,192.5 363.2,193.2 372.0,193.5 M345.5,197.7 C354.3,197.7 363.2,200.8 372.0,200.8 M345.5,204.0 C354.3,204.0 363.2,203.9 372.0,203.9 M345.5,208.0 C354.3,208.0 363.2,208.1 372.0,208.1 M345.5,214.3 C354.3,214.3 363.2,212.6 372.0,212.2 M345.5,214.3 C354.3,214.3 363.2,216.8 372.0,216.4 M345.5,218.5 C354.3,218.5 363.2,221.7 372.0,220.6 M372.0,78.2 C380.7,77.2 389.3,74.0 398.0,74.0 M372.0,80.2 C380.7,80.6 389.3,82.3 398.0,82.3 M372.0,90.7 C380.7,89.8 389.3,86.5 398.0,86.5 M372.0,92.0 C380.7,92.2 389.3,93.0 398.0,93.0 M372.0,95.2 C380.7,94.3 389.3,93.0 398.0,93.0 M372.0,97.3 C380.7,97.3 389.3,98.3 398.0,98.3 M372.0,105.6 C380.7,105.3 389.3,105.6 398.0,105.6 M372.0,107.7 C380.7,108.2 389.3,110.8 398.0,110.8 M372.0,110.8 C380.7,111.0 389.3,111.9 398.0,111.9 M372.0,120.2 C380.7,121.4 389.3,122.3 398.0,122.3 M372.0,123.3 C380.7,123.5 389.3,122.3 398.0,122.3 M372.0,126.5 C380.7,126.7 389.3,128.5 398.0,128.5 M372.0,134.8 C380.7,134.4 389.3,128.5 398.0,128.5 M372.0,139.0 C380.7,139.7 389.3,144.2 398.0,144.2 M372.0,144.2 C380.7,144.9 389.3,144.2 398.0,144.2 M372.0,150.4 C380.7,150.4 389.3,150.4 398.0,150.4 M372.0,156.7 C380.7,156.5 389.3,153.5 398.0,153.5 M372.0,158.0 C380.7,157.8 389.3,156.0 398.0,156.0 M372.0,166.4 C380.7,167.1 389.3,167.5 398.0,167.5 M372.0,170.6 C380.7,170.1 389.3,167.5 398.0,167.5 M372.0,176.8 C380.7,176.4 389.3,173.7 398.0,173.7 M372.0,180.0 C380.7,180.7 389.3,185.2 398.0,185.2 M372.0,183.1 C380.7,183.3 389.3,185.2 398.0,185.2 M372.0,190.4 C380.7,191.6 389.3,194.5 398.0,194.5 M372.0,193.5 C380.7,193.8 389.3,194.5 398.0,194.5 M372.0,200.8 C380.7,200.8 389.3,197.7 398.0,197.7 M372.0,203.9 C380.7,203.9 389.3,204.0 398.0,204.0 M372.0,208.1 C380.7,208.1 389.3,208.0 398.0,208.0 M372.0,212.2 C380.7,211.9 389.3,212.0 398.0,212.0 M372.0,216.4 C380.7,216.0 389.3,212.0 398.0,212.0 M372.0,220.6 C380.7,219.5 389.3,212.0 398.0,212.0 M273.3,257.7 C274.5,257.3 277.7,255.6 280.3,255.6 C282.9,255.6 285.6,256.8 288.7,257.7 C291.8,258.6 295.5,259.9 299.0,260.8 C302.5,261.7 306.2,262.7 309.5,263.3 C312.8,263.9 314.6,264.2 318.8,264.4 C323.1,264.6 330.2,264.3 335.0,264.4 C339.8,264.5 343.3,265.1 347.5,265.0 C351.7,264.9 355.1,264.9 360.0,264.0 C364.9,263.1 371.9,261.2 376.7,259.8 C381.5,258.4 385.4,255.9 389.0,255.6 C392.6,255.2 396.5,257.3 398.0,257.7 M273.3,252.5 C274.1,252.0 276.4,250.8 278.3,249.4 C280.2,248.0 282.1,246.5 284.5,244.2 C286.9,241.9 289.7,238.2 292.8,235.8 C295.9,233.4 298.9,231.0 303.2,229.6 C307.6,228.2 314.7,227.7 318.8,227.5 C322.9,227.3 325.3,228.0 328.0,228.5 C330.7,229.0 331.8,230.1 335.0,230.6 C338.2,231.1 343.3,231.7 347.5,231.7 C351.7,231.7 356.2,230.1 360.0,230.6 C363.8,231.1 366.9,232.5 370.4,234.8 C373.9,237.1 377.7,241.4 380.8,244.2 C383.9,247.0 386.3,249.9 389.2,251.5 C392.1,253.1 396.5,253.2 398.0,253.5 M273.3,244.2 C274.1,243.5 276.4,241.7 278.3,240.0 C280.2,238.3 282.1,236.2 284.5,233.8 C286.9,231.3 289.7,227.7 292.8,225.4 C295.9,223.1 298.9,221.8 303.2,220.2 C307.6,218.6 313.2,216.3 318.8,216.0 C324.4,215.7 332.2,217.6 337.0,218.1 C341.8,218.6 343.7,218.3 347.5,219.2 C351.3,220.1 355.8,221.2 360.0,223.3 C364.2,225.4 368.3,228.9 372.5,231.7 C376.7,234.5 380.8,237.9 385.0,240.0 C389.2,242.1 395.8,243.5 398.0,244.2 M273.3,240.0 C274.4,238.7 277.7,235.0 280.0,232.0 C282.3,229.0 284.3,224.6 287.0,222.0 C289.7,219.4 293.0,218.0 296.0,216.7 C299.0,215.4 301.2,214.7 305.0,214.0 C308.8,213.3 314.3,212.8 318.8,212.5 C323.3,212.2 327.6,212.4 332.0,212.5 C336.4,212.6 340.8,212.6 345.5,213.0 C350.2,213.4 355.6,214.3 360.0,215.0 C364.4,215.7 368.7,215.5 372.0,217.0 C375.3,218.5 377.0,221.2 380.0,224.0 C383.0,226.8 387.0,231.4 390.0,234.0 C393.0,236.6 396.7,238.7 398.0,239.6 M273.3,227.5 C274.4,225.9 277.7,221.1 280.0,218.0 C282.3,214.9 284.3,211.3 287.0,209.0 C289.7,206.7 293.0,205.2 296.0,204.0 C299.0,202.8 301.2,202.2 305.0,201.5 C308.8,200.8 314.3,200.2 318.8,200.0 C323.3,199.8 327.6,200.0 332.0,200.0 C336.4,200.0 340.8,199.8 345.5,200.0 C350.2,200.2 355.6,200.5 360.0,201.0 C364.4,201.5 368.3,201.2 372.0,203.0 C375.7,204.8 379.0,208.7 382.0,212.0 C385.0,215.3 387.3,219.8 390.0,223.0 C392.7,226.2 396.7,229.7 398.0,231.0 M273.3,218.5 C274.4,216.9 277.7,212.0 280.0,209.0 C282.3,206.0 284.3,202.7 287.0,200.5 C289.7,198.3 293.0,197.1 296.0,195.8 C299.0,194.6 301.2,193.7 305.0,193.0 C308.8,192.3 314.3,191.9 318.8,191.7 C323.3,191.4 327.6,191.4 332.0,191.5 C336.4,191.6 340.8,191.8 345.5,192.0 C350.2,192.2 355.6,192.6 360.0,193.0 C364.4,193.4 368.3,192.8 372.0,194.5 C375.7,196.2 379.0,199.9 382.0,203.0 C385.0,206.1 387.3,210.0 390.0,213.0 C392.7,216.0 396.7,219.5 398.0,220.8"/>
</g>

<!-- legend -->
<rect x="45" y="25" width="81" height="42" fill="#fff"/>
<line x1="50" y1="37.6" x2="69" y2="37.6" stroke="#000" stroke-width="2"/>
<line x1="50" y1="58.5" x2="69" y2="58.5" stroke="#e81c1c" stroke-width="2"/>
<text x="75.5" y="42.9" font-size="12">ScV<tspan font-size="8.2" dy="3">6</tspan><tspan dy="-3">Ge</tspan><tspan font-size="8.2" dy="3">6</tspan></text>
<text x="75.5" y="62.2" font-size="12">ScV<tspan font-size="8.2" dy="3">6</tspan><tspan dy="-3">Pb</tspan><tspan font-size="8.2" dy="3">6</tspan></text>

<!-- frames -->
<rect x="40.3" y="23.3" width="227.2" height="288" fill="none" stroke="#111" stroke-width="1.1"/>
<rect x="273.3" y="23.3" width="124.8" height="288" fill="none" stroke="#111" stroke-width="1.1"/>
<g stroke="#111" stroke-width="1">
<line x1="37" y1="282.3" x2="40.3" y2="282.3"/>
<line x1="37" y1="224.7" x2="40.3" y2="224.7"/>
<line x1="37" y1="167.2" x2="40.3" y2="167.2"/>
<line x1="37" y1="109.6" x2="40.3" y2="109.6"/>
<line x1="37" y1="52.0" x2="40.3" y2="52.0"/>
<line x1="40.5" y1="311.3" x2="40.5" y2="314.5"/>
<line x1="78.6" y1="311.3" x2="78.6" y2="314.5"/>
<line x1="100.5" y1="311.3" x2="100.5" y2="314.5"/>
<line x1="144" y1="311.3" x2="144" y2="314.5"/>
<line x1="163.5" y1="311.3" x2="163.5" y2="314.5"/>
<line x1="201.5" y1="311.3" x2="201.5" y2="314.5"/>
<line x1="223.5" y1="311.3" x2="223.5" y2="314.5"/>
<line x1="267.5" y1="311.3" x2="267.5" y2="314.5"/>
<line x1="273.3" y1="311.3" x2="273.3" y2="314.5"/>
<line x1="318.8" y1="311.3" x2="318.8" y2="314.5"/>
<line x1="345.5" y1="311.3" x2="345.5" y2="314.5"/>
<line x1="398.1" y1="311.3" x2="398.1" y2="314.5"/>
</g>
<g font-size="13" text-anchor="end">
<text x="35" y="287">0</text>
<text x="35" y="229.4">10</text>
<text x="35" y="171.9">20</text>
<text x="35" y="114.3">30</text>
<text x="35" y="56.7">40</text>
</g>
<g font-size="11.4" text-anchor="middle">
<text x="44.2" y="326.3">Γ</text>
<text x="78.5" y="326.3">M</text>
<text x="102.4" y="326.3">K</text>
<text x="144.9" y="326.3">Γ</text>
<text x="165" y="326.3">A</text>
<text x="201.8" y="326.3">L</text>
<text x="223.6" y="326.3">H</text>
<text x="265.6" y="326.3">A</text>
<text x="275.8" y="326.3">Γ'</text>
<text x="319.3" y="326.3">M'</text>
<text x="344.7" y="326.3">K'</text>
<text x="396.8" y="326.3">Γ'</text>
</g>
<text transform="translate(10.4,150.7) rotate(-90)" font-size="13.4" text-anchor="middle">Phonon energy (meV)</text>

<!-- ===== Panel b ===== -->
<text x="418" y="13.4" font-size="19" font-weight="bold">b</text>
<rect x="458.6" y="20.7" width="185.8" height="129.5" fill="none" stroke="#999" stroke-width="1"/>
<line x1="458.6" y1="82.3" x2="644.4" y2="82.3" stroke="#444" stroke-width="0.8" stroke-dasharray="2.4,1.2"/>
<g stroke="#999" stroke-width="1">
<line x1="456" y1="31.3" x2="458.6" y2="31.3"/>
<line x1="456" y1="82.3" x2="458.6" y2="82.3"/>
<line x1="456" y1="133.2" x2="458.6" y2="133.2"/>
<line x1="466.3" y1="150.2" x2="466.3" y2="152.5"/>
<line x1="551" y1="150.2" x2="551" y2="152.5"/>
<line x1="635.6" y1="150.2" x2="635.6" y2="152.5"/>
</g>
<g font-size="12" text-anchor="end">
<text x="454" y="35.7">2.0</text>
<text x="454" y="86.7">0.0</text>
<text x="454" y="137.6">-2.0</text>
</g>
<text transform="translate(428.5,77.3) rotate(-90)" font-size="13" text-anchor="middle">Energy (meV/f.u.)</text>
<g font-size="12" text-anchor="middle">
<text x="466" y="163.8">L</text>
<text x="552.4" y="163.8">H(<tspan font-weight="bold">q</tspan><tspan font-size="8.5" dy="2.5">2</tspan><tspan dy="-2.5">)</tspan></text>
<text x="637" y="163.8">K'(<tspan font-weight="bold">q</tspan><tspan font-size="8.5" dy="2.5">3</tspan><tspan dy="-2.5">)</tspan></text>
</g>
<polyline points="466.3,81.5 551.1,79 635.7,26.8" fill="none" stroke="#000" stroke-width="0.9"/>
<polyline points="466.3,96.8 551.1,92.7 635.7,81.6" fill="none" stroke="#f00" stroke-width="0.9"/>
<polyline points="466.3,121.1 551.1,132 635.7,144.1" fill="none" stroke="#0a1ef0" stroke-width="0.9"/>
<g>
<circle cx="466.3" cy="81.5" r="3" fill="#000"/>
<circle cx="551.1" cy="79" r="3" fill="#000"/>
<circle cx="635.7" cy="26.8" r="3" fill="#000"/>
<circle cx="466.3" cy="96.8" r="3" fill="#f00"/>
<circle cx="551.1" cy="92.7" r="3" fill="#f00"/>
<circle cx="635.7" cy="81.6" r="3" fill="#f00"/>
<circle cx="466.3" cy="121.1" r="3" fill="#0000ff"/>
<circle cx="551.1" cy="132" r="3" fill="#0000ff"/>
<circle cx="635.7" cy="144.1" r="3" fill="#0000ff"/>
</g>
<circle cx="470.1" cy="36.2" r="2.6" fill="#000"/>
<circle cx="470.1" cy="47.3" r="2.6" fill="#f00"/>
<circle cx="535.8" cy="36.2" r="2.6" fill="#0000ff"/>
<g font-size="10.8" letter-spacing="-0.45">
<text x="478.5" y="39.6">ScV<tspan font-size="7" dy="2.5">6</tspan><tspan dy="-2.5">Ge</tspan><tspan font-size="7" dy="2.5">6</tspan></text>
<text x="478.5" y="51">ScV<tspan font-size="7" dy="2.5">6</tspan><tspan dy="-2.5">Pb</tspan><tspan font-size="7" dy="2.5">6</tspan></text>
<text x="544" y="39.6">ScV<tspan font-size="7" dy="2.5">6</tspan><tspan dy="-2.5">Sn</tspan><tspan font-size="7" dy="2.5">6</tspan></text>
</g>

<!-- ===== Panel c ===== -->
<text x="415.5" y="176.5" font-size="19" font-weight="bold">c</text>
<line x1="458.5" y1="183.5" x2="648.1" y2="183.5" stroke="#888" stroke-width="1"/>
<line x1="458.5" y1="308.3" x2="648.1" y2="308.3" stroke="#888" stroke-width="1"/>
<line x1="458.5" y1="183.5" x2="458.5" y2="308.3" stroke="#7a7aff" stroke-width="1"/>
<line x1="648.1" y1="183.5" x2="648.1" y2="308.3" stroke="#ff5050" stroke-width="1"/>
<g stroke="#7a7aff" stroke-width="1">
<line x1="456.5" y1="183.5" x2="458.5" y2="183.5"/>
<line x1="456.5" y1="214.7" x2="458.5" y2="214.7"/>
<line x1="456.5" y1="245.9" x2="458.5" y2="245.9"/>
<line x1="456.5" y1="277.1" x2="458.5" y2="277.1"/>
<line x1="456.5" y1="308.3" x2="458.5" y2="308.3"/>
</g>
<g stroke="#ff5050" stroke-width="1">
<line x1="648.1" y1="192.3" x2="650.5" y2="192.3"/>
<line x1="648.1" y1="227.7" x2="650.5" y2="227.7"/>
<line x1="648.1" y1="263.2" x2="650.5" y2="263.2"/>
<line x1="648.1" y1="298.6" x2="650.5" y2="298.6"/>
</g>
<g stroke="#888" stroke-width="1">
<line x1="481.2" y1="308.3" x2="481.2" y2="310.5"/>
<line x1="556.6" y1="308.3" x2="556.6" y2="310.5"/>
<line x1="632.6" y1="308.3" x2="632.6" y2="310.5"/>
</g>
<g font-size="11.4" fill="#3366ff" text-anchor="end">
<text x="453" y="188.5">1.20</text>
<text x="453" y="219.7">1.15</text>
<text x="453" y="250.9">1.10</text>
<text x="453" y="282.1">1.05</text>
<text x="453" y="313.3">1.00</text>
</g>
<g font-size="11.6" fill="#ff2020">
<text x="652" y="195.5">9.6</text>
<text x="652" y="230.9">9.2</text>
<text x="652" y="266.4">8.8</text>
<text x="652" y="301.8">8.4</text>
</g>
<text transform="translate(427.3,246.1) rotate(-90)" font-size="13" fill="#3366ff" text-anchor="middle">Bond ratio d<tspan font-size="9" dy="2.5">2</tspan><tspan dy="-2.5">/d</tspan><tspan font-size="9" dy="2.5">1</tspan></text>
<text transform="translate(682.4,246.1) rotate(-90)" font-size="11.7" fill="#ff2020" text-anchor="middle">Lattice parameter c (Å)</text>
<g font-size="11.6" text-anchor="middle">
<text x="480.6" y="320.6">Ge</text>
<text x="554.6" y="320.6">Sn</text>
<text x="634" y="320.6">Pb</text>
<text x="553.6" y="335.6">X atom</text>
</g>
<!-- inset structure -->
<line x1="488.6" y1="195.6" x2="488.6" y2="252.7" stroke="#aaa" stroke-width="1"/>
<circle cx="488.6" cy="195.6" r="4.3" fill="url(#sc)"/>
<circle cx="488.6" cy="214.6" r="3" fill="url(#xa)"/>
<circle cx="488.6" cy="233.8" r="3" fill="url(#xa)"/>
<circle cx="488.6" cy="252.7" r="4.3" fill="url(#sc)"/>
<g font-size="12">
<text x="465.5" y="199.9">Sc</text>
<text x="467.8" y="218.9">X</text>
<text x="467.8" y="238.1">X</text>
<text x="465.5" y="257">Sc</text>
<text x="492.3" y="209.5">d1</text>
<text x="492.3" y="227.7">d2</text>
<text x="492.3" y="246.9">d1</text>
</g>
<!-- data -->
<polyline points="481,281.3 556.7,236.5 632.6,202.7" fill="none" stroke="#3b4cff" stroke-width="1"/>
<polyline points="481,302.5 556.6,235.5 632.6,215.5" fill="none" stroke="#ff3030" stroke-width="1"/>
<circle cx="481" cy="281.3" r="3.1" fill="#0000ff"/>
<circle cx="556.7" cy="236.5" r="3.1" fill="#0000ff"/>
<circle cx="632.6" cy="202.7" r="3.2" fill="#0000ff"/>
<polygon points="481,299.2 477.9,305.6 484.1,305.6" fill="#ff0000"/>
<polygon points="556.6,232.3 553.8,237.6 559.4,237.6" fill="#ff0000"/>
<polygon points="632.6,212.2 629.7,217.8 635.5,217.8" fill="#ff0000"/>
<!-- arrows -->
<line x1="469" y1="271.8" x2="479.5" y2="271.8" stroke="#2255ff" stroke-width="1.3"/>
<polygon points="467,271.8 471.5,269.6 471.5,274" fill="#2255ff"/>
<line x1="623.1" y1="226.5" x2="633" y2="226.5" stroke="#ff1010" stroke-width="1.3"/>
<polygon points="635.5,226.5 631,224.3 631,228.7" fill="#ff1010"/>
</svg>
</body></html>
